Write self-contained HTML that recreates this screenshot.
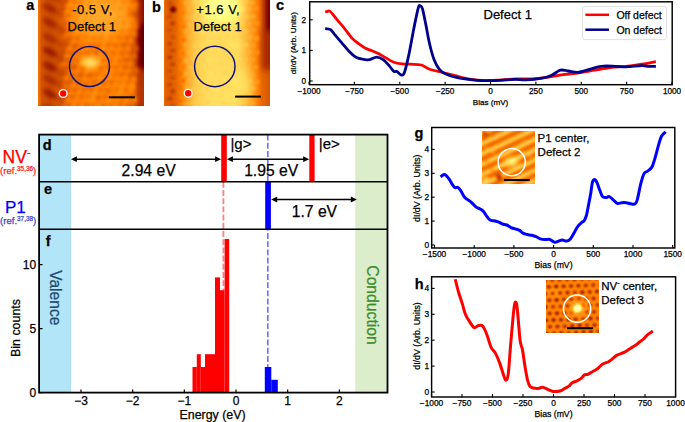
<!DOCTYPE html><html><head><meta charset="utf-8"><style>html,body{margin:0;padding:0;background:#fff;width:685px;height:422px;overflow:hidden}svg{display:block}text{font-family:"Liberation Sans",sans-serif;stroke-width:0.25px}</style></head><body>
<svg width="685" height="422" viewBox="0 0 685 422">
<defs>
<filter id="afm" color-interpolation-filters="sRGB"><feComponentTransfer><feFuncR type="table" tableValues="0 1 1"/><feFuncG type="table" tableValues="0 0 0.5 1 1"/><feFuncB type="table" tableValues="0 0 1"/></feComponentTransfer></filter>
<filter id="blur1" x="-50%" y="-50%" width="200%" height="200%" color-interpolation-filters="sRGB"><feGaussianBlur stdDeviation="1"/></filter>
<filter id="blur2" x="-50%" y="-50%" width="200%" height="200%" color-interpolation-filters="sRGB"><feGaussianBlur stdDeviation="1.6"/></filter>
<filter id="blur2b" x="-50%" y="-50%" width="200%" height="200%" color-interpolation-filters="sRGB"><feGaussianBlur stdDeviation="1.5"/></filter>
<filter id="blur2c" x="-50%" y="-50%" width="200%" height="200%" color-interpolation-filters="sRGB"><feGaussianBlur stdDeviation="2.0"/></filter>
<filter id="blur3" x="-50%" y="-50%" width="200%" height="200%" color-interpolation-filters="sRGB"><feGaussianBlur stdDeviation="3"/></filter>
<filter id="blur6" x="-50%" y="-50%" width="200%" height="200%" color-interpolation-filters="sRGB"><feGaussianBlur stdDeviation="6"/></filter>
<linearGradient id="ga_base" x1="0" x2="1" y1="0" y2="0"><stop offset="0" stop-color="#e06a0a"/><stop offset="0.3" stop-color="#ee8210"/><stop offset="0.8" stop-color="#f29018"/><stop offset="1" stop-color="#e07010"/></linearGradient>
<linearGradient id="gb_base" x1="0" x2="1" y1="0" y2="0"><stop offset="0" stop-color="#e67a10"/><stop offset="0.3" stop-color="#f4a42a"/><stop offset="0.7" stop-color="#f6b03a"/><stop offset="1" stop-color="#e88a18"/></linearGradient>
</defs>
<rect width="685" height="422" fill="#fff"/>
<clipPath id="ca"><rect x="38" y="0" width="106" height="106"/></clipPath>
<linearGradient id="gah" gradientUnits="userSpaceOnUse" x1="38" y1="0" x2="144" y2="0"><stop offset="0.000" stop-color="rgb(122,122,122)"/><stop offset="0.024" stop-color="rgb(107,107,107)"/><stop offset="0.113" stop-color="rgb(102,102,102)"/><stop offset="0.226" stop-color="rgb(110,110,110)"/><stop offset="0.349" stop-color="rgb(122,122,122)"/><stop offset="0.585" stop-color="rgb(130,130,130)"/><stop offset="0.774" stop-color="rgb(125,125,125)"/><stop offset="0.849" stop-color="rgb(115,115,115)"/><stop offset="0.915" stop-color="rgb(99,99,99)"/><stop offset="0.962" stop-color="rgb(84,84,84)"/><stop offset="1.000" stop-color="rgb(76,76,76)"/></linearGradient>
<g clip-path="url(#ca)"><g filter="url(#afm)">
<rect x="38" y="0" width="106" height="106" fill="url(#gah)"/>
<g filter="url(#blur6)">
<ellipse cx="102" cy="16" rx="36" ry="24" fill="rgb(150,150,150)"/>
<ellipse cx="95" cy="10" rx="20" ry="11" fill="rgb(158,158,158)"/>
<ellipse cx="115" cy="70" rx="8" ry="30" fill="rgb(140,140,140)" transform="rotate(-25 115 70)"/>
<ellipse cx="112" cy="90" rx="24" ry="16" fill="rgb(135,135,135)"/>
<ellipse cx="80" cy="100" rx="20" ry="10" fill="rgb(133,133,133)"/>
</g>
<g filter="url(#blur2c)">
<ellipse cx="67.5" cy="-6.7" rx="3.2" ry="2.5" fill="rgb(104,104,104)" transform="rotate(25 67.5 -6.7)"/>
<ellipse cx="71.7" cy="-3.0" rx="2.8" ry="2.2" fill="rgb(153,153,153)" opacity="0.85"/>
<ellipse cx="76.3" cy="-6.2" rx="3.2" ry="2.5" fill="rgb(107,107,107)" transform="rotate(25 76.3 -6.2)"/>
<ellipse cx="80.5" cy="-2.5" rx="2.8" ry="2.2" fill="rgb(154,154,154)" opacity="0.85"/>
<ellipse cx="84.7" cy="-6.1" rx="3.2" ry="2.5" fill="rgb(109,109,109)" transform="rotate(25 84.7 -6.1)"/>
<ellipse cx="88.9" cy="-2.4" rx="2.8" ry="2.2" fill="rgb(152,152,152)" opacity="0.85"/>
<ellipse cx="93.2" cy="-6.6" rx="3.2" ry="2.5" fill="rgb(122,122,122)" transform="rotate(25 93.2 -6.6)"/>
<ellipse cx="97.4" cy="-2.9" rx="2.8" ry="2.2" fill="rgb(149,149,149)" opacity="0.85"/>
<ellipse cx="101.9" cy="-5.9" rx="3.2" ry="2.5" fill="rgb(125,125,125)" transform="rotate(25 101.9 -5.9)"/>
<ellipse cx="106.1" cy="-2.2" rx="2.8" ry="2.2" fill="rgb(148,148,148)" opacity="0.85"/>
<ellipse cx="110.4" cy="-6.5" rx="3.2" ry="2.5" fill="rgb(122,122,122)" transform="rotate(25 110.4 -6.5)"/>
<ellipse cx="114.6" cy="-2.8" rx="2.8" ry="2.2" fill="rgb(144,144,144)" opacity="0.85"/>
<ellipse cx="117.7" cy="-6.7" rx="3.2" ry="2.5" fill="rgb(113,113,113)" transform="rotate(25 117.7 -6.7)"/>
<ellipse cx="121.9" cy="-3.0" rx="2.8" ry="2.2" fill="rgb(151,151,151)" opacity="0.85"/>
<ellipse cx="126.4" cy="-6.4" rx="3.2" ry="2.5" fill="rgb(106,106,106)" transform="rotate(25 126.4 -6.4)"/>
<ellipse cx="130.6" cy="-2.7" rx="2.8" ry="2.2" fill="rgb(150,150,150)" opacity="0.85"/>
<ellipse cx="65.7" cy="1.1" rx="3.2" ry="2.5" fill="rgb(96,96,96)" transform="rotate(25 65.7 1.1)"/>
<ellipse cx="69.9" cy="4.8" rx="2.8" ry="2.2" fill="rgb(154,154,154)" opacity="0.85"/>
<ellipse cx="74.4" cy="0.5" rx="3.2" ry="2.5" fill="rgb(111,111,111)" transform="rotate(25 74.4 0.5)"/>
<ellipse cx="78.6" cy="4.2" rx="2.8" ry="2.2" fill="rgb(145,145,145)" opacity="0.85"/>
<ellipse cx="81.7" cy="1.3" rx="3.2" ry="2.5" fill="rgb(119,119,119)" transform="rotate(25 81.7 1.3)"/>
<ellipse cx="85.9" cy="5.0" rx="2.8" ry="2.2" fill="rgb(151,151,151)" opacity="0.85"/>
<ellipse cx="89.7" cy="1.3" rx="3.2" ry="2.5" fill="rgb(131,131,131)" transform="rotate(25 89.7 1.3)"/>
<ellipse cx="93.9" cy="5.0" rx="2.8" ry="2.2" fill="rgb(155,155,155)" opacity="0.85"/>
<ellipse cx="98.8" cy="1.6" rx="3.2" ry="2.5" fill="rgb(131,131,131)" transform="rotate(25 98.8 1.6)"/>
<ellipse cx="103.0" cy="5.3" rx="2.8" ry="2.2" fill="rgb(150,150,150)" opacity="0.85"/>
<ellipse cx="106.5" cy="0.6" rx="3.2" ry="2.5" fill="rgb(132,132,132)" transform="rotate(25 106.5 0.6)"/>
<ellipse cx="110.7" cy="4.3" rx="2.8" ry="2.2" fill="rgb(145,145,145)" opacity="0.85"/>
<ellipse cx="114.9" cy="1.4" rx="3.2" ry="2.5" fill="rgb(131,131,131)" transform="rotate(25 114.9 1.4)"/>
<ellipse cx="119.1" cy="5.1" rx="2.8" ry="2.2" fill="rgb(154,154,154)" opacity="0.85"/>
<ellipse cx="123.8" cy="1.0" rx="3.2" ry="2.5" fill="rgb(122,122,122)" transform="rotate(25 123.8 1.0)"/>
<ellipse cx="128.0" cy="4.7" rx="2.8" ry="2.2" fill="rgb(150,150,150)" opacity="0.85"/>
<ellipse cx="132.5" cy="1.1" rx="3.2" ry="2.5" fill="rgb(111,111,111)" transform="rotate(25 132.5 1.1)"/>
<ellipse cx="136.7" cy="4.8" rx="2.8" ry="2.2" fill="rgb(148,148,148)" opacity="0.85"/>
<ellipse cx="62.7" cy="8.6" rx="3.2" ry="2.5" fill="rgb(93,93,93)" transform="rotate(25 62.7 8.6)"/>
<ellipse cx="66.9" cy="12.3" rx="2.8" ry="2.2" fill="rgb(149,149,149)" opacity="0.85"/>
<ellipse cx="71.2" cy="8.2" rx="3.2" ry="2.5" fill="rgb(115,115,115)" transform="rotate(25 71.2 8.2)"/>
<ellipse cx="75.4" cy="11.9" rx="2.8" ry="2.2" fill="rgb(143,143,143)" opacity="0.85"/>
<ellipse cx="78.6" cy="8.6" rx="3.2" ry="2.5" fill="rgb(125,125,125)" transform="rotate(25 78.6 8.6)"/>
<ellipse cx="82.8" cy="12.3" rx="2.8" ry="2.2" fill="rgb(149,149,149)" opacity="0.85"/>
<ellipse cx="87.8" cy="8.2" rx="3.2" ry="2.5" fill="rgb(134,134,134)" transform="rotate(25 87.8 8.2)"/>
<ellipse cx="92.0" cy="11.9" rx="2.8" ry="2.2" fill="rgb(148,148,148)" opacity="0.85"/>
<ellipse cx="96.3" cy="8.2" rx="3.2" ry="2.5" fill="rgb(139,139,139)" transform="rotate(25 96.3 8.2)"/>
<ellipse cx="100.5" cy="11.9" rx="2.8" ry="2.2" fill="rgb(143,143,143)" opacity="0.85"/>
<ellipse cx="104.6" cy="8.7" rx="3.2" ry="2.5" fill="rgb(139,139,139)" transform="rotate(25 104.6 8.7)"/>
<ellipse cx="108.8" cy="12.4" rx="2.8" ry="2.2" fill="rgb(153,153,153)" opacity="0.85"/>
<ellipse cx="112.5" cy="8.0" rx="3.2" ry="2.5" fill="rgb(137,137,137)" transform="rotate(25 112.5 8.0)"/>
<ellipse cx="116.7" cy="11.7" rx="2.8" ry="2.2" fill="rgb(144,144,144)" opacity="0.85"/>
<ellipse cx="121.0" cy="8.2" rx="3.2" ry="2.5" fill="rgb(130,130,130)" transform="rotate(25 121.0 8.2)"/>
<ellipse cx="125.2" cy="11.9" rx="2.8" ry="2.2" fill="rgb(154,154,154)" opacity="0.85"/>
<ellipse cx="129.2" cy="8.2" rx="3.2" ry="2.5" fill="rgb(125,125,125)" transform="rotate(25 129.2 8.2)"/>
<ellipse cx="133.4" cy="11.9" rx="2.8" ry="2.2" fill="rgb(149,149,149)" opacity="0.85"/>
<ellipse cx="68.7" cy="15.5" rx="3.2" ry="2.5" fill="rgb(109,109,109)" transform="rotate(25 68.7 15.5)"/>
<ellipse cx="72.9" cy="19.2" rx="2.8" ry="2.2" fill="rgb(148,148,148)" opacity="0.85"/>
<ellipse cx="76.5" cy="16.3" rx="3.2" ry="2.5" fill="rgb(122,122,122)" transform="rotate(25 76.5 16.3)"/>
<ellipse cx="80.7" cy="20.0" rx="2.8" ry="2.2" fill="rgb(155,155,155)" opacity="0.85"/>
<ellipse cx="85.6" cy="16.4" rx="3.2" ry="2.5" fill="rgb(137,137,137)" transform="rotate(25 85.6 16.4)"/>
<ellipse cx="89.8" cy="20.1" rx="2.8" ry="2.2" fill="rgb(155,155,155)" opacity="0.85"/>
<ellipse cx="93.0" cy="16.1" rx="3.2" ry="2.5" fill="rgb(140,140,140)" transform="rotate(25 93.0 16.1)"/>
<ellipse cx="97.2" cy="19.8" rx="2.8" ry="2.2" fill="rgb(149,149,149)" opacity="0.85"/>
<ellipse cx="101.5" cy="15.6" rx="3.2" ry="2.5" fill="rgb(141,141,141)" transform="rotate(25 101.5 15.6)"/>
<ellipse cx="105.7" cy="19.3" rx="2.8" ry="2.2" fill="rgb(150,150,150)" opacity="0.85"/>
<ellipse cx="109.9" cy="16.2" rx="3.2" ry="2.5" fill="rgb(141,141,141)" transform="rotate(25 109.9 16.2)"/>
<ellipse cx="114.1" cy="19.9" rx="2.8" ry="2.2" fill="rgb(152,152,152)" opacity="0.85"/>
<ellipse cx="119.3" cy="16.3" rx="3.2" ry="2.5" fill="rgb(135,135,135)" transform="rotate(25 119.3 16.3)"/>
<ellipse cx="123.5" cy="20.0" rx="2.8" ry="2.2" fill="rgb(143,143,143)" opacity="0.85"/>
<ellipse cx="127.4" cy="15.4" rx="3.2" ry="2.5" fill="rgb(128,128,128)" transform="rotate(25 127.4 15.4)"/>
<ellipse cx="131.6" cy="19.1" rx="2.8" ry="2.2" fill="rgb(149,149,149)" opacity="0.85"/>
<ellipse cx="65.0" cy="23.6" rx="3.2" ry="2.5" fill="rgb(104,104,104)" transform="rotate(25 65.0 23.6)"/>
<ellipse cx="69.2" cy="27.3" rx="2.8" ry="2.2" fill="rgb(153,153,153)" opacity="0.85"/>
<ellipse cx="73.1" cy="23.4" rx="3.2" ry="2.5" fill="rgb(116,116,116)" transform="rotate(25 73.1 23.4)"/>
<ellipse cx="77.3" cy="27.1" rx="2.8" ry="2.2" fill="rgb(146,146,146)" opacity="0.85"/>
<ellipse cx="81.9" cy="23.2" rx="3.2" ry="2.5" fill="rgb(130,130,130)" transform="rotate(25 81.9 23.2)"/>
<ellipse cx="86.1" cy="26.9" rx="2.8" ry="2.2" fill="rgb(153,153,153)" opacity="0.85"/>
<ellipse cx="89.9" cy="22.7" rx="3.2" ry="2.5" fill="rgb(135,135,135)" transform="rotate(25 89.9 22.7)"/>
<ellipse cx="94.1" cy="26.4" rx="2.8" ry="2.2" fill="rgb(144,144,144)" opacity="0.85"/>
<ellipse cx="99.9" cy="23.6" rx="3.2" ry="2.5" fill="rgb(139,139,139)" transform="rotate(25 99.9 23.6)"/>
<ellipse cx="104.1" cy="27.3" rx="2.8" ry="2.2" fill="rgb(147,147,147)" opacity="0.85"/>
<ellipse cx="107.2" cy="23.0" rx="3.2" ry="2.5" fill="rgb(139,139,139)" transform="rotate(25 107.2 23.0)"/>
<ellipse cx="111.4" cy="26.7" rx="2.8" ry="2.2" fill="rgb(147,147,147)" opacity="0.85"/>
<ellipse cx="115.4" cy="23.0" rx="3.2" ry="2.5" fill="rgb(136,136,136)" transform="rotate(25 115.4 23.0)"/>
<ellipse cx="119.6" cy="26.7" rx="2.8" ry="2.2" fill="rgb(152,152,152)" opacity="0.85"/>
<ellipse cx="124.1" cy="22.7" rx="3.2" ry="2.5" fill="rgb(128,128,128)" transform="rotate(25 124.1 22.7)"/>
<ellipse cx="128.3" cy="26.4" rx="2.8" ry="2.2" fill="rgb(151,151,151)" opacity="0.85"/>
<ellipse cx="133.2" cy="23.1" rx="3.2" ry="2.5" fill="rgb(118,118,118)" transform="rotate(25 133.2 23.1)"/>
<ellipse cx="137.4" cy="26.8" rx="2.8" ry="2.2" fill="rgb(148,148,148)" opacity="0.85"/>
<ellipse cx="63.4" cy="31.1" rx="3.2" ry="2.5" fill="rgb(97,97,97)" transform="rotate(25 63.4 31.1)"/>
<ellipse cx="67.6" cy="34.8" rx="2.8" ry="2.2" fill="rgb(153,153,153)" opacity="0.85"/>
<ellipse cx="70.8" cy="30.6" rx="3.2" ry="2.5" fill="rgb(105,105,105)" transform="rotate(25 70.8 30.6)"/>
<ellipse cx="75.0" cy="34.3" rx="2.8" ry="2.2" fill="rgb(151,151,151)" opacity="0.85"/>
<ellipse cx="80.2" cy="31.0" rx="3.2" ry="2.5" fill="rgb(123,123,123)" transform="rotate(25 80.2 31.0)"/>
<ellipse cx="84.4" cy="34.7" rx="2.8" ry="2.2" fill="rgb(150,150,150)" opacity="0.85"/>
<ellipse cx="87.4" cy="30.7" rx="3.2" ry="2.5" fill="rgb(125,125,125)" transform="rotate(25 87.4 30.7)"/>
<ellipse cx="91.6" cy="34.4" rx="2.8" ry="2.2" fill="rgb(153,153,153)" opacity="0.85"/>
<ellipse cx="95.7" cy="30.1" rx="3.2" ry="2.5" fill="rgb(134,134,134)" transform="rotate(25 95.7 30.1)"/>
<ellipse cx="99.9" cy="33.8" rx="2.8" ry="2.2" fill="rgb(145,145,145)" opacity="0.85"/>
<ellipse cx="104.0" cy="31.0" rx="3.2" ry="2.5" fill="rgb(134,134,134)" transform="rotate(25 104.0 31.0)"/>
<ellipse cx="108.2" cy="34.7" rx="2.8" ry="2.2" fill="rgb(151,151,151)" opacity="0.85"/>
<ellipse cx="113.7" cy="31.1" rx="3.2" ry="2.5" fill="rgb(130,130,130)" transform="rotate(25 113.7 31.1)"/>
<ellipse cx="117.9" cy="34.8" rx="2.8" ry="2.2" fill="rgb(143,143,143)" opacity="0.85"/>
<ellipse cx="122.0" cy="30.6" rx="3.2" ry="2.5" fill="rgb(120,120,120)" transform="rotate(25 122.0 30.6)"/>
<ellipse cx="126.2" cy="34.3" rx="2.8" ry="2.2" fill="rgb(152,152,152)" opacity="0.85"/>
<ellipse cx="130.7" cy="30.1" rx="3.2" ry="2.5" fill="rgb(115,115,115)" transform="rotate(25 130.7 30.1)"/>
<ellipse cx="134.9" cy="33.8" rx="2.8" ry="2.2" fill="rgb(153,153,153)" opacity="0.85"/>
<ellipse cx="69.3" cy="37.9" rx="3.2" ry="2.5" fill="rgb(101,101,101)" transform="rotate(25 69.3 37.9)"/>
<ellipse cx="73.5" cy="41.6" rx="2.8" ry="2.2" fill="rgb(152,152,152)" opacity="0.85"/>
<ellipse cx="77.3" cy="38.2" rx="3.2" ry="2.5" fill="rgb(107,107,107)" transform="rotate(25 77.3 38.2)"/>
<ellipse cx="81.5" cy="41.9" rx="2.8" ry="2.2" fill="rgb(151,151,151)" opacity="0.85"/>
<ellipse cx="85.9" cy="37.6" rx="3.2" ry="2.5" fill="rgb(118,118,118)" transform="rotate(25 85.9 37.6)"/>
<ellipse cx="90.1" cy="41.3" rx="2.8" ry="2.2" fill="rgb(154,154,154)" opacity="0.85"/>
<ellipse cx="93.7" cy="37.9" rx="3.2" ry="2.5" fill="rgb(117,117,117)" transform="rotate(25 93.7 37.9)"/>
<ellipse cx="97.9" cy="41.6" rx="2.8" ry="2.2" fill="rgb(146,146,146)" opacity="0.85"/>
<ellipse cx="101.6" cy="38.1" rx="3.2" ry="2.5" fill="rgb(119,119,119)" transform="rotate(25 101.6 38.1)"/>
<ellipse cx="105.8" cy="41.8" rx="2.8" ry="2.2" fill="rgb(152,152,152)" opacity="0.85"/>
<ellipse cx="111.2" cy="37.8" rx="3.2" ry="2.5" fill="rgb(119,119,119)" transform="rotate(25 111.2 37.8)"/>
<ellipse cx="115.4" cy="41.5" rx="2.8" ry="2.2" fill="rgb(154,154,154)" opacity="0.85"/>
<ellipse cx="119.0" cy="37.7" rx="3.2" ry="2.5" fill="rgb(110,110,110)" transform="rotate(25 119.0 37.7)"/>
<ellipse cx="123.2" cy="41.4" rx="2.8" ry="2.2" fill="rgb(149,149,149)" opacity="0.85"/>
<ellipse cx="127.1" cy="37.6" rx="3.2" ry="2.5" fill="rgb(106,106,106)" transform="rotate(25 127.1 37.6)"/>
<ellipse cx="131.3" cy="41.3" rx="2.8" ry="2.2" fill="rgb(153,153,153)" opacity="0.85"/>
<ellipse cx="65.7" cy="45.1" rx="3.2" ry="2.5" fill="rgb(98,98,98)" transform="rotate(25 65.7 45.1)"/>
<ellipse cx="69.9" cy="48.8" rx="2.8" ry="2.2" fill="rgb(151,151,151)" opacity="0.85"/>
<ellipse cx="74.9" cy="45.8" rx="3.2" ry="2.5" fill="rgb(101,101,101)" transform="rotate(25 74.9 45.8)"/>
<ellipse cx="79.1" cy="49.5" rx="2.8" ry="2.2" fill="rgb(146,146,146)" opacity="0.85"/>
<ellipse cx="82.1" cy="45.6" rx="3.2" ry="2.5" fill="rgb(113,113,113)" transform="rotate(25 82.1 45.6)"/>
<ellipse cx="86.3" cy="49.3" rx="2.8" ry="2.2" fill="rgb(146,146,146)" opacity="0.85"/>
<ellipse cx="91.6" cy="45.2" rx="3.2" ry="2.5" fill="rgb(111,111,111)" transform="rotate(25 91.6 45.2)"/>
<ellipse cx="95.8" cy="48.9" rx="2.8" ry="2.2" fill="rgb(144,144,144)" opacity="0.85"/>
<ellipse cx="98.7" cy="45.8" rx="3.2" ry="2.5" fill="rgb(107,107,107)" transform="rotate(25 98.7 45.8)"/>
<ellipse cx="102.9" cy="49.5" rx="2.8" ry="2.2" fill="rgb(150,150,150)" opacity="0.85"/>
<ellipse cx="108.1" cy="44.8" rx="3.2" ry="2.5" fill="rgb(108,108,108)" transform="rotate(25 108.1 44.8)"/>
<ellipse cx="112.3" cy="48.5" rx="2.8" ry="2.2" fill="rgb(149,149,149)" opacity="0.85"/>
<ellipse cx="115.7" cy="45.5" rx="3.2" ry="2.5" fill="rgb(107,107,107)" transform="rotate(25 115.7 45.5)"/>
<ellipse cx="119.9" cy="49.2" rx="2.8" ry="2.2" fill="rgb(150,150,150)" opacity="0.85"/>
<ellipse cx="124.0" cy="45.1" rx="3.2" ry="2.5" fill="rgb(103,103,103)" transform="rotate(25 124.0 45.1)"/>
<ellipse cx="128.2" cy="48.8" rx="2.8" ry="2.2" fill="rgb(154,154,154)" opacity="0.85"/>
<ellipse cx="133.7" cy="44.9" rx="3.2" ry="2.5" fill="rgb(107,107,107)" transform="rotate(25 133.7 44.9)"/>
<ellipse cx="137.9" cy="48.6" rx="2.8" ry="2.2" fill="rgb(153,153,153)" opacity="0.85"/>
<ellipse cx="62.5" cy="52.8" rx="3.2" ry="2.5" fill="rgb(96,96,96)" transform="rotate(25 62.5 52.8)"/>
<ellipse cx="66.7" cy="56.5" rx="2.8" ry="2.2" fill="rgb(151,151,151)" opacity="0.85"/>
<ellipse cx="71.6" cy="52.4" rx="3.2" ry="2.5" fill="rgb(105,105,105)" transform="rotate(25 71.6 52.4)"/>
<ellipse cx="75.8" cy="56.1" rx="2.8" ry="2.2" fill="rgb(145,145,145)" opacity="0.85"/>
<ellipse cx="80.5" cy="53.0" rx="3.2" ry="2.5" fill="rgb(114,114,114)" transform="rotate(25 80.5 53.0)"/>
<ellipse cx="84.7" cy="56.7" rx="2.8" ry="2.2" fill="rgb(145,145,145)" opacity="0.85"/>
<ellipse cx="88.0" cy="53.1" rx="3.2" ry="2.5" fill="rgb(109,109,109)" transform="rotate(25 88.0 53.1)"/>
<ellipse cx="92.2" cy="56.8" rx="2.8" ry="2.2" fill="rgb(151,151,151)" opacity="0.85"/>
<ellipse cx="96.6" cy="52.6" rx="3.2" ry="2.5" fill="rgb(103,103,103)" transform="rotate(25 96.6 52.6)"/>
<ellipse cx="100.8" cy="56.3" rx="2.8" ry="2.2" fill="rgb(152,152,152)" opacity="0.85"/>
<ellipse cx="105.5" cy="52.9" rx="3.2" ry="2.5" fill="rgb(107,107,107)" transform="rotate(25 105.5 52.9)"/>
<ellipse cx="109.7" cy="56.6" rx="2.8" ry="2.2" fill="rgb(146,146,146)" opacity="0.85"/>
<ellipse cx="113.3" cy="53.2" rx="3.2" ry="2.5" fill="rgb(108,108,108)" transform="rotate(25 113.3 53.2)"/>
<ellipse cx="117.5" cy="56.9" rx="2.8" ry="2.2" fill="rgb(146,146,146)" opacity="0.85"/>
<ellipse cx="122.3" cy="52.6" rx="3.2" ry="2.5" fill="rgb(107,107,107)" transform="rotate(25 122.3 52.6)"/>
<ellipse cx="126.5" cy="56.3" rx="2.8" ry="2.2" fill="rgb(150,150,150)" opacity="0.85"/>
<ellipse cx="130.7" cy="52.6" rx="3.2" ry="2.5" fill="rgb(103,103,103)" transform="rotate(25 130.7 52.6)"/>
<ellipse cx="134.9" cy="56.3" rx="2.8" ry="2.2" fill="rgb(146,146,146)" opacity="0.85"/>
<ellipse cx="60.2" cy="59.8" rx="3.2" ry="2.5" fill="rgb(96,96,96)" transform="rotate(25 60.2 59.8)"/>
<ellipse cx="64.4" cy="63.5" rx="2.8" ry="2.2" fill="rgb(145,145,145)" opacity="0.85"/>
<ellipse cx="68.4" cy="60.5" rx="3.2" ry="2.5" fill="rgb(99,99,99)" transform="rotate(25 68.4 60.5)"/>
<ellipse cx="72.6" cy="64.2" rx="2.8" ry="2.2" fill="rgb(154,154,154)" opacity="0.85"/>
<ellipse cx="77.9" cy="60.1" rx="3.2" ry="2.5" fill="rgb(108,108,108)" transform="rotate(25 77.9 60.1)"/>
<ellipse cx="82.1" cy="63.8" rx="2.8" ry="2.2" fill="rgb(151,151,151)" opacity="0.85"/>
<ellipse cx="86.4" cy="60.4" rx="3.2" ry="2.5" fill="rgb(113,113,113)" transform="rotate(25 86.4 60.4)"/>
<ellipse cx="90.6" cy="64.1" rx="2.8" ry="2.2" fill="rgb(149,149,149)" opacity="0.85"/>
<ellipse cx="94.2" cy="60.5" rx="3.2" ry="2.5" fill="rgb(112,112,112)" transform="rotate(25 94.2 60.5)"/>
<ellipse cx="98.4" cy="64.2" rx="2.8" ry="2.2" fill="rgb(151,151,151)" opacity="0.85"/>
<ellipse cx="102.4" cy="60.2" rx="3.2" ry="2.5" fill="rgb(104,104,104)" transform="rotate(25 102.4 60.2)"/>
<ellipse cx="106.6" cy="63.9" rx="2.8" ry="2.2" fill="rgb(150,150,150)" opacity="0.85"/>
<ellipse cx="110.1" cy="60.2" rx="3.2" ry="2.5" fill="rgb(108,108,108)" transform="rotate(25 110.1 60.2)"/>
<ellipse cx="114.3" cy="63.9" rx="2.8" ry="2.2" fill="rgb(150,150,150)" opacity="0.85"/>
<ellipse cx="119.9" cy="60.7" rx="3.2" ry="2.5" fill="rgb(112,112,112)" transform="rotate(25 119.9 60.7)"/>
<ellipse cx="124.1" cy="64.4" rx="2.8" ry="2.2" fill="rgb(151,151,151)" opacity="0.85"/>
<ellipse cx="126.9" cy="60.0" rx="3.2" ry="2.5" fill="rgb(103,103,103)" transform="rotate(25 126.9 60.0)"/>
<ellipse cx="131.1" cy="63.7" rx="2.8" ry="2.2" fill="rgb(150,150,150)" opacity="0.85"/>
<ellipse cx="66.8" cy="68.0" rx="3.2" ry="2.5" fill="rgb(101,101,101)" transform="rotate(25 66.8 68.0)"/>
<ellipse cx="71.0" cy="71.7" rx="2.8" ry="2.2" fill="rgb(149,149,149)" opacity="0.85"/>
<ellipse cx="73.9" cy="67.1" rx="3.2" ry="2.5" fill="rgb(100,100,100)" transform="rotate(25 73.9 67.1)"/>
<ellipse cx="78.1" cy="70.8" rx="2.8" ry="2.2" fill="rgb(145,145,145)" opacity="0.85"/>
<ellipse cx="82.9" cy="67.8" rx="3.2" ry="2.5" fill="rgb(107,107,107)" transform="rotate(25 82.9 67.8)"/>
<ellipse cx="87.1" cy="71.5" rx="2.8" ry="2.2" fill="rgb(151,151,151)" opacity="0.85"/>
<ellipse cx="91.0" cy="67.6" rx="3.2" ry="2.5" fill="rgb(107,107,107)" transform="rotate(25 91.0 67.6)"/>
<ellipse cx="95.2" cy="71.3" rx="2.8" ry="2.2" fill="rgb(145,145,145)" opacity="0.85"/>
<ellipse cx="100.3" cy="67.9" rx="3.2" ry="2.5" fill="rgb(107,107,107)" transform="rotate(25 100.3 67.9)"/>
<ellipse cx="104.5" cy="71.6" rx="2.8" ry="2.2" fill="rgb(150,150,150)" opacity="0.85"/>
<ellipse cx="108.3" cy="67.3" rx="3.2" ry="2.5" fill="rgb(105,105,105)" transform="rotate(25 108.3 67.3)"/>
<ellipse cx="112.5" cy="71.0" rx="2.8" ry="2.2" fill="rgb(153,153,153)" opacity="0.85"/>
<ellipse cx="115.9" cy="67.6" rx="3.2" ry="2.5" fill="rgb(105,105,105)" transform="rotate(25 115.9 67.6)"/>
<ellipse cx="120.1" cy="71.3" rx="2.8" ry="2.2" fill="rgb(145,145,145)" opacity="0.85"/>
<ellipse cx="124.7" cy="67.2" rx="3.2" ry="2.5" fill="rgb(103,103,103)" transform="rotate(25 124.7 67.2)"/>
<ellipse cx="128.9" cy="70.9" rx="2.8" ry="2.2" fill="rgb(145,145,145)" opacity="0.85"/>
<ellipse cx="133.3" cy="67.1" rx="3.2" ry="2.5" fill="rgb(108,108,108)" transform="rotate(25 133.3 67.1)"/>
<ellipse cx="137.5" cy="70.8" rx="2.8" ry="2.2" fill="rgb(148,148,148)" opacity="0.85"/>
<ellipse cx="62.8" cy="74.5" rx="3.2" ry="2.5" fill="rgb(100,100,100)" transform="rotate(25 62.8 74.5)"/>
<ellipse cx="67.0" cy="78.2" rx="2.8" ry="2.2" fill="rgb(153,153,153)" opacity="0.85"/>
<ellipse cx="71.7" cy="75.5" rx="3.2" ry="2.5" fill="rgb(100,100,100)" transform="rotate(25 71.7 75.5)"/>
<ellipse cx="75.9" cy="79.2" rx="2.8" ry="2.2" fill="rgb(146,146,146)" opacity="0.85"/>
<ellipse cx="80.7" cy="75.2" rx="3.2" ry="2.5" fill="rgb(103,103,103)" transform="rotate(25 80.7 75.2)"/>
<ellipse cx="84.9" cy="78.9" rx="2.8" ry="2.2" fill="rgb(152,152,152)" opacity="0.85"/>
<ellipse cx="89.4" cy="75.1" rx="3.2" ry="2.5" fill="rgb(102,102,102)" transform="rotate(25 89.4 75.1)"/>
<ellipse cx="93.6" cy="78.8" rx="2.8" ry="2.2" fill="rgb(144,144,144)" opacity="0.85"/>
<ellipse cx="96.5" cy="74.4" rx="3.2" ry="2.5" fill="rgb(110,110,110)" transform="rotate(25 96.5 74.4)"/>
<ellipse cx="100.7" cy="78.1" rx="2.8" ry="2.2" fill="rgb(154,154,154)" opacity="0.85"/>
<ellipse cx="104.9" cy="75.6" rx="3.2" ry="2.5" fill="rgb(112,112,112)" transform="rotate(25 104.9 75.6)"/>
<ellipse cx="109.1" cy="79.3" rx="2.8" ry="2.2" fill="rgb(154,154,154)" opacity="0.85"/>
<ellipse cx="114.5" cy="74.4" rx="3.2" ry="2.5" fill="rgb(110,110,110)" transform="rotate(25 114.5 74.4)"/>
<ellipse cx="118.7" cy="78.1" rx="2.8" ry="2.2" fill="rgb(155,155,155)" opacity="0.85"/>
<ellipse cx="121.5" cy="74.8" rx="3.2" ry="2.5" fill="rgb(103,103,103)" transform="rotate(25 121.5 74.8)"/>
<ellipse cx="125.7" cy="78.5" rx="2.8" ry="2.2" fill="rgb(148,148,148)" opacity="0.85"/>
<ellipse cx="130.3" cy="75.2" rx="3.2" ry="2.5" fill="rgb(104,104,104)" transform="rotate(25 130.3 75.2)"/>
<ellipse cx="134.5" cy="78.9" rx="2.8" ry="2.2" fill="rgb(152,152,152)" opacity="0.85"/>
<ellipse cx="60.2" cy="82.7" rx="3.2" ry="2.5" fill="rgb(97,97,97)" transform="rotate(25 60.2 82.7)"/>
<ellipse cx="64.4" cy="86.4" rx="2.8" ry="2.2" fill="rgb(148,148,148)" opacity="0.85"/>
<ellipse cx="69.1" cy="82.0" rx="3.2" ry="2.5" fill="rgb(100,100,100)" transform="rotate(25 69.1 82.0)"/>
<ellipse cx="73.3" cy="85.7" rx="2.8" ry="2.2" fill="rgb(149,149,149)" opacity="0.85"/>
<ellipse cx="77.9" cy="82.6" rx="3.2" ry="2.5" fill="rgb(104,104,104)" transform="rotate(25 77.9 82.6)"/>
<ellipse cx="82.1" cy="86.3" rx="2.8" ry="2.2" fill="rgb(154,154,154)" opacity="0.85"/>
<ellipse cx="86.1" cy="82.9" rx="3.2" ry="2.5" fill="rgb(108,108,108)" transform="rotate(25 86.1 82.9)"/>
<ellipse cx="90.3" cy="86.6" rx="2.8" ry="2.2" fill="rgb(154,154,154)" opacity="0.85"/>
<ellipse cx="94.7" cy="82.2" rx="3.2" ry="2.5" fill="rgb(103,103,103)" transform="rotate(25 94.7 82.2)"/>
<ellipse cx="98.9" cy="85.9" rx="2.8" ry="2.2" fill="rgb(148,148,148)" opacity="0.85"/>
<ellipse cx="103.4" cy="81.9" rx="3.2" ry="2.5" fill="rgb(103,103,103)" transform="rotate(25 103.4 81.9)"/>
<ellipse cx="107.6" cy="85.6" rx="2.8" ry="2.2" fill="rgb(144,144,144)" opacity="0.85"/>
<ellipse cx="111.3" cy="82.1" rx="3.2" ry="2.5" fill="rgb(104,104,104)" transform="rotate(25 111.3 82.1)"/>
<ellipse cx="115.5" cy="85.8" rx="2.8" ry="2.2" fill="rgb(151,151,151)" opacity="0.85"/>
<ellipse cx="119.6" cy="81.8" rx="3.2" ry="2.5" fill="rgb(114,114,114)" transform="rotate(25 119.6 81.8)"/>
<ellipse cx="123.8" cy="85.5" rx="2.8" ry="2.2" fill="rgb(146,146,146)" opacity="0.85"/>
<ellipse cx="128.0" cy="82.3" rx="3.2" ry="2.5" fill="rgb(110,110,110)" transform="rotate(25 128.0 82.3)"/>
<ellipse cx="132.2" cy="86.0" rx="2.8" ry="2.2" fill="rgb(153,153,153)" opacity="0.85"/>
<ellipse cx="66.6" cy="90.0" rx="3.2" ry="2.5" fill="rgb(104,104,104)" transform="rotate(25 66.6 90.0)"/>
<ellipse cx="70.8" cy="93.7" rx="2.8" ry="2.2" fill="rgb(147,147,147)" opacity="0.85"/>
<ellipse cx="75.0" cy="89.7" rx="3.2" ry="2.5" fill="rgb(107,107,107)" transform="rotate(25 75.0 89.7)"/>
<ellipse cx="79.2" cy="93.4" rx="2.8" ry="2.2" fill="rgb(150,150,150)" opacity="0.85"/>
<ellipse cx="83.7" cy="89.4" rx="3.2" ry="2.5" fill="rgb(108,108,108)" transform="rotate(25 83.7 89.4)"/>
<ellipse cx="87.9" cy="93.1" rx="2.8" ry="2.2" fill="rgb(152,152,152)" opacity="0.85"/>
<ellipse cx="90.9" cy="89.6" rx="3.2" ry="2.5" fill="rgb(103,103,103)" transform="rotate(25 90.9 89.6)"/>
<ellipse cx="95.1" cy="93.3" rx="2.8" ry="2.2" fill="rgb(150,150,150)" opacity="0.85"/>
<ellipse cx="100.4" cy="89.7" rx="3.2" ry="2.5" fill="rgb(110,110,110)" transform="rotate(25 100.4 89.7)"/>
<ellipse cx="104.6" cy="93.4" rx="2.8" ry="2.2" fill="rgb(146,146,146)" opacity="0.85"/>
<ellipse cx="108.2" cy="90.4" rx="3.2" ry="2.5" fill="rgb(107,107,107)" transform="rotate(25 108.2 90.4)"/>
<ellipse cx="112.4" cy="94.1" rx="2.8" ry="2.2" fill="rgb(144,144,144)" opacity="0.85"/>
<ellipse cx="116.3" cy="89.4" rx="3.2" ry="2.5" fill="rgb(111,111,111)" transform="rotate(25 116.3 89.4)"/>
<ellipse cx="120.5" cy="93.1" rx="2.8" ry="2.2" fill="rgb(154,154,154)" opacity="0.85"/>
<ellipse cx="126.0" cy="89.9" rx="3.2" ry="2.5" fill="rgb(109,109,109)" transform="rotate(25 126.0 89.9)"/>
<ellipse cx="130.2" cy="93.6" rx="2.8" ry="2.2" fill="rgb(148,148,148)" opacity="0.85"/>
<ellipse cx="64.1" cy="97.0" rx="3.2" ry="2.5" fill="rgb(99,99,99)" transform="rotate(25 64.1 97.0)"/>
<ellipse cx="68.3" cy="100.7" rx="2.8" ry="2.2" fill="rgb(143,143,143)" opacity="0.85"/>
<ellipse cx="72.5" cy="96.9" rx="3.2" ry="2.5" fill="rgb(102,102,102)" transform="rotate(25 72.5 96.9)"/>
<ellipse cx="76.7" cy="100.6" rx="2.8" ry="2.2" fill="rgb(152,152,152)" opacity="0.85"/>
<ellipse cx="80.9" cy="96.9" rx="3.2" ry="2.5" fill="rgb(106,106,106)" transform="rotate(25 80.9 96.9)"/>
<ellipse cx="85.1" cy="100.6" rx="2.8" ry="2.2" fill="rgb(148,148,148)" opacity="0.85"/>
<ellipse cx="88.2" cy="96.8" rx="3.2" ry="2.5" fill="rgb(111,111,111)" transform="rotate(25 88.2 96.8)"/>
<ellipse cx="92.4" cy="100.5" rx="2.8" ry="2.2" fill="rgb(155,155,155)" opacity="0.85"/>
<ellipse cx="98.1" cy="97.7" rx="3.2" ry="2.5" fill="rgb(104,104,104)" transform="rotate(25 98.1 97.7)"/>
<ellipse cx="102.3" cy="101.4" rx="2.8" ry="2.2" fill="rgb(147,147,147)" opacity="0.85"/>
<ellipse cx="105.6" cy="97.2" rx="3.2" ry="2.5" fill="rgb(107,107,107)" transform="rotate(25 105.6 97.2)"/>
<ellipse cx="109.8" cy="100.9" rx="2.8" ry="2.2" fill="rgb(154,154,154)" opacity="0.85"/>
<ellipse cx="113.8" cy="97.2" rx="3.2" ry="2.5" fill="rgb(112,112,112)" transform="rotate(25 113.8 97.2)"/>
<ellipse cx="118.0" cy="100.9" rx="2.8" ry="2.2" fill="rgb(147,147,147)" opacity="0.85"/>
<ellipse cx="122.1" cy="97.6" rx="3.2" ry="2.5" fill="rgb(104,104,104)" transform="rotate(25 122.1 97.6)"/>
<ellipse cx="126.3" cy="101.3" rx="2.8" ry="2.2" fill="rgb(150,150,150)" opacity="0.85"/>
<ellipse cx="131.0" cy="96.8" rx="3.2" ry="2.5" fill="rgb(105,105,105)" transform="rotate(25 131.0 96.8)"/>
<ellipse cx="135.2" cy="100.5" rx="2.8" ry="2.2" fill="rgb(153,153,153)" opacity="0.85"/>
<ellipse cx="60.7" cy="104.3" rx="3.2" ry="2.5" fill="rgb(100,100,100)" transform="rotate(25 60.7 104.3)"/>
<ellipse cx="64.9" cy="108.0" rx="2.8" ry="2.2" fill="rgb(146,146,146)" opacity="0.85"/>
<ellipse cx="68.7" cy="104.5" rx="3.2" ry="2.5" fill="rgb(103,103,103)" transform="rotate(25 68.7 104.5)"/>
<ellipse cx="72.9" cy="108.2" rx="2.8" ry="2.2" fill="rgb(154,154,154)" opacity="0.85"/>
<ellipse cx="78.3" cy="104.3" rx="3.2" ry="2.5" fill="rgb(110,110,110)" transform="rotate(25 78.3 104.3)"/>
<ellipse cx="82.5" cy="108.0" rx="2.8" ry="2.2" fill="rgb(153,153,153)" opacity="0.85"/>
<ellipse cx="86.2" cy="105.0" rx="3.2" ry="2.5" fill="rgb(106,106,106)" transform="rotate(25 86.2 105.0)"/>
<ellipse cx="90.4" cy="108.7" rx="2.8" ry="2.2" fill="rgb(145,145,145)" opacity="0.85"/>
<ellipse cx="93.8" cy="104.8" rx="3.2" ry="2.5" fill="rgb(114,114,114)" transform="rotate(25 93.8 104.8)"/>
<ellipse cx="98.0" cy="108.5" rx="2.8" ry="2.2" fill="rgb(149,149,149)" opacity="0.85"/>
<ellipse cx="103.3" cy="105.1" rx="3.2" ry="2.5" fill="rgb(110,110,110)" transform="rotate(25 103.3 105.1)"/>
<ellipse cx="107.5" cy="108.8" rx="2.8" ry="2.2" fill="rgb(148,148,148)" opacity="0.85"/>
<ellipse cx="111.4" cy="104.2" rx="3.2" ry="2.5" fill="rgb(111,111,111)" transform="rotate(25 111.4 104.2)"/>
<ellipse cx="115.6" cy="107.9" rx="2.8" ry="2.2" fill="rgb(155,155,155)" opacity="0.85"/>
<ellipse cx="119.9" cy="104.5" rx="3.2" ry="2.5" fill="rgb(108,108,108)" transform="rotate(25 119.9 104.5)"/>
<ellipse cx="124.1" cy="108.2" rx="2.8" ry="2.2" fill="rgb(153,153,153)" opacity="0.85"/>
<ellipse cx="128.1" cy="105.2" rx="3.2" ry="2.5" fill="rgb(106,106,106)" transform="rotate(25 128.1 105.2)"/>
<ellipse cx="132.3" cy="108.9" rx="2.8" ry="2.2" fill="rgb(149,149,149)" opacity="0.85"/>
</g>
<g filter="url(#blur2c)">
<ellipse cx="50" cy="-4.8" rx="8" ry="3.5" fill="rgb(86,86,86)" transform="rotate(30 50 -4.8)"/>
<ellipse cx="60" cy="1.2" rx="4" ry="3" fill="rgb(97,97,97)" transform="rotate(30 60 1.2)"/>
<ellipse cx="50" cy="8.2" rx="8" ry="3.5" fill="rgb(82,82,82)" transform="rotate(30 50 8.2)"/>
<ellipse cx="60" cy="14.2" rx="4" ry="3" fill="rgb(97,97,97)" transform="rotate(30 60 14.2)"/>
<ellipse cx="50" cy="22.9" rx="8" ry="3.5" fill="rgb(81,81,81)" transform="rotate(30 50 22.9)"/>
<ellipse cx="60" cy="28.9" rx="4" ry="3" fill="rgb(97,97,97)" transform="rotate(30 60 28.9)"/>
<ellipse cx="50" cy="38.2" rx="8" ry="3.5" fill="rgb(86,86,86)" transform="rotate(30 50 38.2)"/>
<ellipse cx="60" cy="44.2" rx="4" ry="3" fill="rgb(97,97,97)" transform="rotate(30 60 44.2)"/>
<ellipse cx="50" cy="51.9" rx="8" ry="3.5" fill="rgb(76,76,76)" transform="rotate(30 50 51.9)"/>
<ellipse cx="60" cy="57.9" rx="4" ry="3" fill="rgb(97,97,97)" transform="rotate(30 60 57.9)"/>
<ellipse cx="50" cy="66.6" rx="8" ry="3.5" fill="rgb(76,76,76)" transform="rotate(30 50 66.6)"/>
<ellipse cx="60" cy="72.6" rx="4" ry="3" fill="rgb(97,97,97)" transform="rotate(30 60 72.6)"/>
<ellipse cx="50" cy="79.8" rx="8" ry="3.5" fill="rgb(85,85,85)" transform="rotate(30 50 79.8)"/>
<ellipse cx="60" cy="85.8" rx="4" ry="3" fill="rgb(97,97,97)" transform="rotate(30 60 85.8)"/>
<ellipse cx="50" cy="93.8" rx="8" ry="3.5" fill="rgb(77,77,77)" transform="rotate(30 50 93.8)"/>
<ellipse cx="60" cy="99.8" rx="4" ry="3" fill="rgb(97,97,97)" transform="rotate(30 60 99.8)"/>
<ellipse cx="50" cy="109.3" rx="8" ry="3.5" fill="rgb(86,86,86)" transform="rotate(30 50 109.3)"/>
<ellipse cx="60" cy="115.3" rx="4" ry="3" fill="rgb(97,97,97)" transform="rotate(30 60 115.3)"/>
</g>
<g filter="url(#blur3)">
<rect x="140" y="-10" width="10" height="35" fill="rgb(71,71,71)"/>
<rect x="139.5" y="25" width="10" height="45" fill="rgb(43,43,43)"/>
<rect x="140" y="68" width="10" height="42" fill="rgb(92,92,92)"/>
<ellipse cx="134" cy="14" rx="5" ry="2.5" fill="rgb(76,76,76)" transform="rotate(30 134 14)"/>
</g>
<rect x="38" y="0" width="2" height="106" fill="rgb(122,122,122)" filter="url(#blur1)"/>
<g filter="url(#blur3)">
<path d="M78,60 L102,59 L91,70 Z" fill="rgb(178,178,178)"/>
<ellipse cx="90" cy="62" rx="9" ry="4" fill="rgb(184,184,184)"/>
</g>
</g></g>
<clipPath id="cb"><rect x="164" y="0" width="106" height="106"/></clipPath>
<linearGradient id="gbh" gradientUnits="userSpaceOnUse" x1="164" y1="0" x2="270" y2="0"><stop offset="0.000" stop-color="rgb(120,120,120)"/><stop offset="0.019" stop-color="rgb(112,112,112)"/><stop offset="0.113" stop-color="rgb(115,115,115)"/><stop offset="0.208" stop-color="rgb(143,143,143)"/><stop offset="0.302" stop-color="rgb(166,166,166)"/><stop offset="0.434" stop-color="rgb(176,176,176)"/><stop offset="0.670" stop-color="rgb(176,176,176)"/><stop offset="0.764" stop-color="rgb(158,158,158)"/><stop offset="0.858" stop-color="rgb(133,133,133)"/><stop offset="0.925" stop-color="rgb(115,115,115)"/><stop offset="1.000" stop-color="rgb(107,107,107)"/></linearGradient>
<g clip-path="url(#cb)"><g filter="url(#afm)">
<rect x="164" y="0" width="106" height="106" fill="url(#gbh)"/>
<g filter="url(#blur6)">
<ellipse cx="222" cy="8" rx="18" ry="16" fill="rgb(204,204,204)"/>
<ellipse cx="232" cy="45" rx="7" ry="6" fill="rgb(199,199,199)"/>
<ellipse cx="240" cy="80" rx="9" ry="20" fill="rgb(178,178,178)" transform="rotate(-20 240 80)"/>
<ellipse cx="222" cy="40" rx="14" ry="22" fill="rgb(173,173,173)"/>
<ellipse cx="228" cy="62" rx="10" ry="12" fill="rgb(171,171,171)"/>
</g>
<g filter="url(#blur3)">
<rect x="265" y="-10" width="10" height="50" fill="rgb(56,56,56)"/>
<rect x="262" y="30" width="12" height="40" fill="rgb(84,84,84)"/>
</g>
<g filter="url(#blur2)">
<ellipse cx="170.0" cy="3.0" rx="2.4" ry="1.8" fill="rgb(94,94,94)"/>
<ellipse cx="180" cy="6.0" rx="2.4" ry="1.8" fill="rgb(122,122,122)"/>
<ellipse cx="172.5" cy="9.8" rx="2.4" ry="1.8" fill="rgb(96,96,96)"/>
<ellipse cx="183" cy="12.8" rx="2.4" ry="1.8" fill="rgb(124,124,124)"/>
<ellipse cx="170.0" cy="16.6" rx="2.4" ry="1.8" fill="rgb(95,95,95)"/>
<ellipse cx="180" cy="19.6" rx="2.4" ry="1.8" fill="rgb(124,124,124)"/>
<ellipse cx="172.5" cy="23.4" rx="2.4" ry="1.8" fill="rgb(85,85,85)"/>
<ellipse cx="183" cy="26.4" rx="2.4" ry="1.8" fill="rgb(119,119,119)"/>
<ellipse cx="170.0" cy="30.2" rx="2.4" ry="1.8" fill="rgb(99,99,99)"/>
<ellipse cx="180" cy="33.2" rx="2.4" ry="1.8" fill="rgb(121,121,121)"/>
<ellipse cx="172.5" cy="37.0" rx="2.4" ry="1.8" fill="rgb(98,98,98)"/>
<ellipse cx="183" cy="40.0" rx="2.4" ry="1.8" fill="rgb(116,116,116)"/>
<ellipse cx="170.0" cy="43.8" rx="2.4" ry="1.8" fill="rgb(91,91,91)"/>
<ellipse cx="180" cy="46.8" rx="2.4" ry="1.8" fill="rgb(117,117,117)"/>
<ellipse cx="172.5" cy="50.6" rx="2.4" ry="1.8" fill="rgb(92,92,92)"/>
<ellipse cx="183" cy="53.6" rx="2.4" ry="1.8" fill="rgb(121,121,121)"/>
<ellipse cx="170.0" cy="57.4" rx="2.4" ry="1.8" fill="rgb(84,84,84)"/>
<ellipse cx="180" cy="60.4" rx="2.4" ry="1.8" fill="rgb(117,117,117)"/>
<ellipse cx="172.5" cy="64.19999999999999" rx="2.4" ry="1.8" fill="rgb(88,88,88)"/>
<ellipse cx="183" cy="67.19999999999999" rx="2.4" ry="1.8" fill="rgb(124,124,124)"/>
<ellipse cx="170.0" cy="71.0" rx="2.4" ry="1.8" fill="rgb(96,96,96)"/>
<ellipse cx="180" cy="74.0" rx="2.4" ry="1.8" fill="rgb(116,116,116)"/>
<ellipse cx="172.5" cy="77.8" rx="2.4" ry="1.8" fill="rgb(96,96,96)"/>
<ellipse cx="183" cy="80.8" rx="2.4" ry="1.8" fill="rgb(116,116,116)"/>
<ellipse cx="170.0" cy="84.6" rx="2.4" ry="1.8" fill="rgb(94,94,94)"/>
<ellipse cx="180" cy="87.6" rx="2.4" ry="1.8" fill="rgb(116,116,116)"/>
<ellipse cx="172.5" cy="91.39999999999999" rx="2.4" ry="1.8" fill="rgb(84,84,84)"/>
<ellipse cx="183" cy="94.39999999999999" rx="2.4" ry="1.8" fill="rgb(124,124,124)"/>
<ellipse cx="170.0" cy="98.2" rx="2.4" ry="1.8" fill="rgb(87,87,87)"/>
<ellipse cx="180" cy="101.2" rx="2.4" ry="1.8" fill="rgb(117,117,117)"/>
<ellipse cx="172.5" cy="105.0" rx="2.4" ry="1.8" fill="rgb(99,99,99)"/>
<ellipse cx="183" cy="108.0" rx="2.4" ry="1.8" fill="rgb(124,124,124)"/>
<ellipse cx="173" cy="9.5" rx="3" ry="3" fill="rgb(56,56,56)"/>
</g>
<g filter="url(#blur2)" opacity="0.5">
<ellipse cx="185.6" cy="2.9" rx="2.2" ry="1.6" fill="rgb(172,172,172)"/>
<ellipse cx="193.9" cy="1.4" rx="2.2" ry="1.6" fill="rgb(182,182,182)"/>
<ellipse cx="201.4" cy="2.9" rx="2.2" ry="1.6" fill="rgb(181,181,181)"/>
<ellipse cx="208.1" cy="1.7" rx="2.2" ry="1.6" fill="rgb(162,162,162)"/>
<ellipse cx="215.3" cy="1.1" rx="2.2" ry="1.6" fill="rgb(166,166,166)"/>
<ellipse cx="223.7" cy="1.0" rx="2.2" ry="1.6" fill="rgb(175,175,175)"/>
<ellipse cx="230.7" cy="1.6" rx="2.2" ry="1.6" fill="rgb(179,179,179)"/>
<ellipse cx="238.5" cy="1.6" rx="2.2" ry="1.6" fill="rgb(170,170,170)"/>
<ellipse cx="246.4" cy="1.1" rx="2.2" ry="1.6" fill="rgb(183,183,183)"/>
<ellipse cx="252.5" cy="2.5" rx="2.2" ry="1.6" fill="rgb(180,180,180)"/>
<ellipse cx="188.7" cy="8.3" rx="2.2" ry="1.6" fill="rgb(163,163,163)"/>
<ellipse cx="198.1" cy="8.6" rx="2.2" ry="1.6" fill="rgb(177,177,177)"/>
<ellipse cx="205.6" cy="10.1" rx="2.2" ry="1.6" fill="rgb(167,167,167)"/>
<ellipse cx="211.9" cy="9.2" rx="2.2" ry="1.6" fill="rgb(178,178,178)"/>
<ellipse cx="218.9" cy="9.7" rx="2.2" ry="1.6" fill="rgb(178,178,178)"/>
<ellipse cx="227.9" cy="8.3" rx="2.2" ry="1.6" fill="rgb(182,182,182)"/>
<ellipse cx="233.9" cy="8.9" rx="2.2" ry="1.6" fill="rgb(174,174,174)"/>
<ellipse cx="243.0" cy="8.9" rx="2.2" ry="1.6" fill="rgb(182,182,182)"/>
<ellipse cx="249.8" cy="8.8" rx="2.2" ry="1.6" fill="rgb(166,166,166)"/>
<ellipse cx="256.6" cy="8.4" rx="2.2" ry="1.6" fill="rgb(162,162,162)"/>
<ellipse cx="187.0" cy="16.5" rx="2.2" ry="1.6" fill="rgb(168,168,168)"/>
<ellipse cx="193.0" cy="16.6" rx="2.2" ry="1.6" fill="rgb(179,179,179)"/>
<ellipse cx="200.9" cy="16.2" rx="2.2" ry="1.6" fill="rgb(160,160,160)"/>
<ellipse cx="209.3" cy="15.5" rx="2.2" ry="1.6" fill="rgb(171,171,171)"/>
<ellipse cx="216.7" cy="15.7" rx="2.2" ry="1.6" fill="rgb(177,177,177)"/>
<ellipse cx="224.4" cy="16.7" rx="2.2" ry="1.6" fill="rgb(178,178,178)"/>
<ellipse cx="230.2" cy="16.3" rx="2.2" ry="1.6" fill="rgb(162,162,162)"/>
<ellipse cx="239.2" cy="16.0" rx="2.2" ry="1.6" fill="rgb(170,170,170)"/>
<ellipse cx="247.0" cy="17.1" rx="2.2" ry="1.6" fill="rgb(183,183,183)"/>
<ellipse cx="253.4" cy="16.4" rx="2.2" ry="1.6" fill="rgb(177,177,177)"/>
<ellipse cx="189.5" cy="24.6" rx="2.2" ry="1.6" fill="rgb(183,183,183)"/>
<ellipse cx="197.5" cy="23.6" rx="2.2" ry="1.6" fill="rgb(167,167,167)"/>
<ellipse cx="203.9" cy="23.1" rx="2.2" ry="1.6" fill="rgb(178,178,178)"/>
<ellipse cx="212.9" cy="23.3" rx="2.2" ry="1.6" fill="rgb(178,178,178)"/>
<ellipse cx="220.2" cy="24.0" rx="2.2" ry="1.6" fill="rgb(175,175,175)"/>
<ellipse cx="227.7" cy="23.3" rx="2.2" ry="1.6" fill="rgb(176,176,176)"/>
<ellipse cx="234.3" cy="23.6" rx="2.2" ry="1.6" fill="rgb(178,178,178)"/>
<ellipse cx="242.6" cy="23.2" rx="2.2" ry="1.6" fill="rgb(182,182,182)"/>
<ellipse cx="250.0" cy="23.8" rx="2.2" ry="1.6" fill="rgb(158,158,158)"/>
<ellipse cx="257.3" cy="23.1" rx="2.2" ry="1.6" fill="rgb(175,175,175)"/>
<ellipse cx="185.7" cy="31.1" rx="2.2" ry="1.6" fill="rgb(177,177,177)"/>
<ellipse cx="194.2" cy="30.5" rx="2.2" ry="1.6" fill="rgb(180,180,180)"/>
<ellipse cx="201.7" cy="31.2" rx="2.2" ry="1.6" fill="rgb(183,183,183)"/>
<ellipse cx="209.4" cy="30.8" rx="2.2" ry="1.6" fill="rgb(172,172,172)"/>
<ellipse cx="215.3" cy="31.5" rx="2.2" ry="1.6" fill="rgb(182,182,182)"/>
<ellipse cx="223.5" cy="31.2" rx="2.2" ry="1.6" fill="rgb(176,176,176)"/>
<ellipse cx="231.5" cy="30.1" rx="2.2" ry="1.6" fill="rgb(178,178,178)"/>
<ellipse cx="238.7" cy="31.1" rx="2.2" ry="1.6" fill="rgb(169,169,169)"/>
<ellipse cx="246.2" cy="31.3" rx="2.2" ry="1.6" fill="rgb(174,174,174)"/>
<ellipse cx="253.9" cy="29.9" rx="2.2" ry="1.6" fill="rgb(162,162,162)"/>
<ellipse cx="190.0" cy="37.1" rx="2.2" ry="1.6" fill="rgb(170,170,170)"/>
<ellipse cx="196.7" cy="37.1" rx="2.2" ry="1.6" fill="rgb(162,162,162)"/>
<ellipse cx="204.3" cy="37.4" rx="2.2" ry="1.6" fill="rgb(163,163,163)"/>
<ellipse cx="211.3" cy="37.9" rx="2.2" ry="1.6" fill="rgb(168,168,168)"/>
<ellipse cx="219.9" cy="38.2" rx="2.2" ry="1.6" fill="rgb(164,164,164)"/>
<ellipse cx="228.0" cy="37.0" rx="2.2" ry="1.6" fill="rgb(168,168,168)"/>
<ellipse cx="234.3" cy="37.8" rx="2.2" ry="1.6" fill="rgb(161,161,161)"/>
<ellipse cx="242.9" cy="37.7" rx="2.2" ry="1.6" fill="rgb(159,159,159)"/>
<ellipse cx="249.9" cy="37.2" rx="2.2" ry="1.6" fill="rgb(172,172,172)"/>
<ellipse cx="256.9" cy="38.2" rx="2.2" ry="1.6" fill="rgb(183,183,183)"/>
<ellipse cx="185.7" cy="44.5" rx="2.2" ry="1.6" fill="rgb(173,173,173)"/>
<ellipse cx="193.6" cy="46.1" rx="2.2" ry="1.6" fill="rgb(183,183,183)"/>
<ellipse cx="201.2" cy="44.9" rx="2.2" ry="1.6" fill="rgb(181,181,181)"/>
<ellipse cx="207.5" cy="44.4" rx="2.2" ry="1.6" fill="rgb(173,173,173)"/>
<ellipse cx="216.2" cy="44.5" rx="2.2" ry="1.6" fill="rgb(174,174,174)"/>
<ellipse cx="224.3" cy="45.0" rx="2.2" ry="1.6" fill="rgb(169,169,169)"/>
<ellipse cx="230.5" cy="44.8" rx="2.2" ry="1.6" fill="rgb(183,183,183)"/>
<ellipse cx="238.3" cy="46.1" rx="2.2" ry="1.6" fill="rgb(181,181,181)"/>
<ellipse cx="246.2" cy="44.7" rx="2.2" ry="1.6" fill="rgb(183,183,183)"/>
<ellipse cx="253.5" cy="45.0" rx="2.2" ry="1.6" fill="rgb(166,166,166)"/>
<ellipse cx="188.9" cy="52.6" rx="2.2" ry="1.6" fill="rgb(169,169,169)"/>
<ellipse cx="196.8" cy="53.0" rx="2.2" ry="1.6" fill="rgb(179,179,179)"/>
<ellipse cx="203.7" cy="52.5" rx="2.2" ry="1.6" fill="rgb(165,165,165)"/>
<ellipse cx="213.1" cy="53.0" rx="2.2" ry="1.6" fill="rgb(164,164,164)"/>
<ellipse cx="219.2" cy="51.7" rx="2.2" ry="1.6" fill="rgb(183,183,183)"/>
<ellipse cx="226.8" cy="52.6" rx="2.2" ry="1.6" fill="rgb(170,170,170)"/>
<ellipse cx="235.0" cy="52.6" rx="2.2" ry="1.6" fill="rgb(177,177,177)"/>
<ellipse cx="241.4" cy="52.9" rx="2.2" ry="1.6" fill="rgb(166,166,166)"/>
<ellipse cx="249.8" cy="52.1" rx="2.2" ry="1.6" fill="rgb(166,166,166)"/>
<ellipse cx="257.3" cy="52.3" rx="2.2" ry="1.6" fill="rgb(167,167,167)"/>
<ellipse cx="185.9" cy="60.4" rx="2.2" ry="1.6" fill="rgb(181,181,181)"/>
<ellipse cx="193.6" cy="58.6" rx="2.2" ry="1.6" fill="rgb(178,178,178)"/>
<ellipse cx="200.9" cy="59.8" rx="2.2" ry="1.6" fill="rgb(176,176,176)"/>
<ellipse cx="208.8" cy="59.6" rx="2.2" ry="1.6" fill="rgb(181,181,181)"/>
<ellipse cx="215.8" cy="59.4" rx="2.2" ry="1.6" fill="rgb(180,180,180)"/>
<ellipse cx="222.9" cy="59.2" rx="2.2" ry="1.6" fill="rgb(179,179,179)"/>
<ellipse cx="230.1" cy="60.3" rx="2.2" ry="1.6" fill="rgb(176,176,176)"/>
<ellipse cx="238.4" cy="59.2" rx="2.2" ry="1.6" fill="rgb(178,178,178)"/>
<ellipse cx="246.8" cy="58.9" rx="2.2" ry="1.6" fill="rgb(170,170,170)"/>
<ellipse cx="253.6" cy="59.6" rx="2.2" ry="1.6" fill="rgb(167,167,167)"/>
<ellipse cx="189.2" cy="67.4" rx="2.2" ry="1.6" fill="rgb(178,178,178)"/>
<ellipse cx="197.5" cy="65.9" rx="2.2" ry="1.6" fill="rgb(177,177,177)"/>
<ellipse cx="205.7" cy="67.8" rx="2.2" ry="1.6" fill="rgb(176,176,176)"/>
<ellipse cx="211.3" cy="67.5" rx="2.2" ry="1.6" fill="rgb(164,164,164)"/>
<ellipse cx="220.0" cy="67.7" rx="2.2" ry="1.6" fill="rgb(176,176,176)"/>
<ellipse cx="226.5" cy="66.4" rx="2.2" ry="1.6" fill="rgb(182,182,182)"/>
<ellipse cx="234.0" cy="67.0" rx="2.2" ry="1.6" fill="rgb(169,169,169)"/>
<ellipse cx="241.5" cy="67.0" rx="2.2" ry="1.6" fill="rgb(159,159,159)"/>
<ellipse cx="248.9" cy="66.6" rx="2.2" ry="1.6" fill="rgb(160,160,160)"/>
<ellipse cx="256.3" cy="67.0" rx="2.2" ry="1.6" fill="rgb(177,177,177)"/>
<ellipse cx="186.2" cy="74.0" rx="2.2" ry="1.6" fill="rgb(182,182,182)"/>
<ellipse cx="193.2" cy="73.1" rx="2.2" ry="1.6" fill="rgb(176,176,176)"/>
<ellipse cx="200.3" cy="74.3" rx="2.2" ry="1.6" fill="rgb(171,171,171)"/>
<ellipse cx="209.3" cy="74.1" rx="2.2" ry="1.6" fill="rgb(174,174,174)"/>
<ellipse cx="215.5" cy="74.1" rx="2.2" ry="1.6" fill="rgb(165,165,165)"/>
<ellipse cx="224.0" cy="74.0" rx="2.2" ry="1.6" fill="rgb(162,162,162)"/>
<ellipse cx="230.5" cy="73.7" rx="2.2" ry="1.6" fill="rgb(177,177,177)"/>
<ellipse cx="237.9" cy="74.4" rx="2.2" ry="1.6" fill="rgb(175,175,175)"/>
<ellipse cx="245.2" cy="74.3" rx="2.2" ry="1.6" fill="rgb(160,160,160)"/>
<ellipse cx="252.7" cy="74.2" rx="2.2" ry="1.6" fill="rgb(164,164,164)"/>
<ellipse cx="188.8" cy="81.7" rx="2.2" ry="1.6" fill="rgb(159,159,159)"/>
<ellipse cx="196.5" cy="82.1" rx="2.2" ry="1.6" fill="rgb(175,175,175)"/>
<ellipse cx="204.1" cy="80.4" rx="2.2" ry="1.6" fill="rgb(183,183,183)"/>
<ellipse cx="212.5" cy="81.8" rx="2.2" ry="1.6" fill="rgb(162,162,162)"/>
<ellipse cx="219.9" cy="80.9" rx="2.2" ry="1.6" fill="rgb(164,164,164)"/>
<ellipse cx="226.9" cy="81.4" rx="2.2" ry="1.6" fill="rgb(167,167,167)"/>
<ellipse cx="234.5" cy="80.5" rx="2.2" ry="1.6" fill="rgb(179,179,179)"/>
<ellipse cx="242.5" cy="81.8" rx="2.2" ry="1.6" fill="rgb(169,169,169)"/>
<ellipse cx="250.4" cy="81.2" rx="2.2" ry="1.6" fill="rgb(173,173,173)"/>
<ellipse cx="257.3" cy="81.7" rx="2.2" ry="1.6" fill="rgb(168,168,168)"/>
<ellipse cx="186.8" cy="88.4" rx="2.2" ry="1.6" fill="rgb(177,177,177)"/>
<ellipse cx="192.5" cy="88.3" rx="2.2" ry="1.6" fill="rgb(181,181,181)"/>
<ellipse cx="201.2" cy="88.3" rx="2.2" ry="1.6" fill="rgb(170,170,170)"/>
<ellipse cx="207.7" cy="87.7" rx="2.2" ry="1.6" fill="rgb(162,162,162)"/>
<ellipse cx="215.7" cy="88.2" rx="2.2" ry="1.6" fill="rgb(181,181,181)"/>
<ellipse cx="222.8" cy="87.9" rx="2.2" ry="1.6" fill="rgb(165,165,165)"/>
<ellipse cx="230.3" cy="88.0" rx="2.2" ry="1.6" fill="rgb(164,164,164)"/>
<ellipse cx="238.5" cy="87.5" rx="2.2" ry="1.6" fill="rgb(182,182,182)"/>
<ellipse cx="245.7" cy="89.3" rx="2.2" ry="1.6" fill="rgb(176,176,176)"/>
<ellipse cx="253.8" cy="88.3" rx="2.2" ry="1.6" fill="rgb(182,182,182)"/>
<ellipse cx="190.2" cy="94.9" rx="2.2" ry="1.6" fill="rgb(163,163,163)"/>
<ellipse cx="196.2" cy="95.1" rx="2.2" ry="1.6" fill="rgb(160,160,160)"/>
<ellipse cx="204.5" cy="96.5" rx="2.2" ry="1.6" fill="rgb(167,167,167)"/>
<ellipse cx="211.8" cy="95.5" rx="2.2" ry="1.6" fill="rgb(165,165,165)"/>
<ellipse cx="220.2" cy="96.0" rx="2.2" ry="1.6" fill="rgb(162,162,162)"/>
<ellipse cx="226.7" cy="95.9" rx="2.2" ry="1.6" fill="rgb(182,182,182)"/>
<ellipse cx="235.0" cy="95.5" rx="2.2" ry="1.6" fill="rgb(183,183,183)"/>
<ellipse cx="241.2" cy="94.7" rx="2.2" ry="1.6" fill="rgb(178,178,178)"/>
<ellipse cx="249.5" cy="94.7" rx="2.2" ry="1.6" fill="rgb(172,172,172)"/>
<ellipse cx="186.0" cy="103.7" rx="2.2" ry="1.6" fill="rgb(159,159,159)"/>
<ellipse cx="193.0" cy="101.9" rx="2.2" ry="1.6" fill="rgb(168,168,168)"/>
<ellipse cx="200.1" cy="102.3" rx="2.2" ry="1.6" fill="rgb(168,168,168)"/>
<ellipse cx="208.1" cy="101.9" rx="2.2" ry="1.6" fill="rgb(159,159,159)"/>
<ellipse cx="216.9" cy="102.2" rx="2.2" ry="1.6" fill="rgb(171,171,171)"/>
<ellipse cx="223.3" cy="102.9" rx="2.2" ry="1.6" fill="rgb(160,160,160)"/>
<ellipse cx="230.6" cy="102.0" rx="2.2" ry="1.6" fill="rgb(172,172,172)"/>
<ellipse cx="239.3" cy="103.0" rx="2.2" ry="1.6" fill="rgb(180,180,180)"/>
<ellipse cx="245.4" cy="101.8" rx="2.2" ry="1.6" fill="rgb(172,172,172)"/>
<ellipse cx="253.5" cy="102.9" rx="2.2" ry="1.6" fill="rgb(168,168,168)"/>
<ellipse cx="189.6" cy="110.7" rx="2.2" ry="1.6" fill="rgb(164,164,164)"/>
<ellipse cx="196.4" cy="109.6" rx="2.2" ry="1.6" fill="rgb(160,160,160)"/>
<ellipse cx="205.2" cy="110.6" rx="2.2" ry="1.6" fill="rgb(166,166,166)"/>
<ellipse cx="211.5" cy="109.2" rx="2.2" ry="1.6" fill="rgb(164,164,164)"/>
<ellipse cx="218.9" cy="109.9" rx="2.2" ry="1.6" fill="rgb(173,173,173)"/>
<ellipse cx="226.7" cy="109.1" rx="2.2" ry="1.6" fill="rgb(176,176,176)"/>
<ellipse cx="233.8" cy="109.4" rx="2.2" ry="1.6" fill="rgb(165,165,165)"/>
<ellipse cx="241.9" cy="109.2" rx="2.2" ry="1.6" fill="rgb(169,169,169)"/>
<ellipse cx="249.3" cy="110.5" rx="2.2" ry="1.6" fill="rgb(172,172,172)"/>
<ellipse cx="258.0" cy="110.3" rx="2.2" ry="1.6" fill="rgb(177,177,177)"/>
</g>
</g></g>
<text x="26.3" y="9.6" font-size="14.5" text-anchor="start" fill="#000" stroke="#000" stroke-width="0.05" font-weight="bold" >a</text>
<text x="152" y="11.9" font-size="14.5" text-anchor="start" fill="#000" stroke="#000" stroke-width="0.05" font-weight="bold" >b</text>
<text x="276" y="10" font-size="14.5" text-anchor="start" fill="#000" stroke="#000" stroke-width="0.05" font-weight="bold" >c</text>
<text x="92.5" y="14.3" font-size="13" text-anchor="middle" fill="#000" stroke="#000" stroke-width="0.18" font-weight="normal" letter-spacing="0.5">-0.5 V,</text>
<text x="91.8" y="30.7" font-size="13" text-anchor="middle" fill="#000" stroke="#000" stroke-width="0.18" font-weight="normal" >Defect 1</text>
<text x="218.3" y="14.3" font-size="13" text-anchor="middle" fill="#000" stroke="#000" stroke-width="0.18" font-weight="normal" letter-spacing="0.5">+1.6 V,</text>
<text x="217.6" y="30.7" font-size="13" text-anchor="middle" fill="#000" stroke="#000" stroke-width="0.18" font-weight="normal" >Defect 1</text>
<circle cx="89.5" cy="66.5" r="20" fill="none" stroke="#14147a" stroke-width="1.5"/>
<circle cx="214.8" cy="66.5" r="20.2" fill="none" stroke="#14147a" stroke-width="1.5"/>
<circle cx="63.2" cy="93.5" r="3.9" fill="#ff0000" stroke="#fff" stroke-width="1.4"/>
<circle cx="188.2" cy="93.3" r="3.9" fill="#ff0000" stroke="#fff" stroke-width="1.4"/>
<line x1="108.8" y1="97.3" x2="134.9" y2="97.3" stroke="#000" stroke-width="2"/>
<line x1="235.1" y1="96.6" x2="260.9" y2="96.6" stroke="#000" stroke-width="2"/>
<rect x="309.7" y="1.8" width="362.50000000000006" height="82.9" fill="none" stroke="#000" stroke-width="1.45"/>
<line x1="309.00" y1="84.7" x2="309.00" y2="81.7" stroke="#000" stroke-width="1.1"/>
<text x="309.00" y="94.0" font-size="8.2" text-anchor="middle" fill="#000" stroke="#000" stroke-width="0.25" font-weight="normal" >−1000</text>
<line x1="354.38" y1="84.7" x2="354.38" y2="81.7" stroke="#000" stroke-width="1.1"/>
<text x="354.38" y="94.0" font-size="8.2" text-anchor="middle" fill="#000" stroke="#000" stroke-width="0.25" font-weight="normal" >−750</text>
<line x1="399.75" y1="84.7" x2="399.75" y2="81.7" stroke="#000" stroke-width="1.1"/>
<text x="399.75" y="94.0" font-size="8.2" text-anchor="middle" fill="#000" stroke="#000" stroke-width="0.25" font-weight="normal" >−500</text>
<line x1="445.12" y1="84.7" x2="445.12" y2="81.7" stroke="#000" stroke-width="1.1"/>
<text x="445.12" y="94.0" font-size="8.2" text-anchor="middle" fill="#000" stroke="#000" stroke-width="0.25" font-weight="normal" >−250</text>
<line x1="490.50" y1="84.7" x2="490.50" y2="81.7" stroke="#000" stroke-width="1.1"/>
<text x="490.50" y="94.0" font-size="8.2" text-anchor="middle" fill="#000" stroke="#000" stroke-width="0.25" font-weight="normal" >0</text>
<line x1="535.88" y1="84.7" x2="535.88" y2="81.7" stroke="#000" stroke-width="1.1"/>
<text x="535.88" y="94.0" font-size="8.2" text-anchor="middle" fill="#000" stroke="#000" stroke-width="0.25" font-weight="normal" >250</text>
<line x1="581.25" y1="84.7" x2="581.25" y2="81.7" stroke="#000" stroke-width="1.1"/>
<text x="581.25" y="94.0" font-size="8.2" text-anchor="middle" fill="#000" stroke="#000" stroke-width="0.25" font-weight="normal" >500</text>
<line x1="626.62" y1="84.7" x2="626.62" y2="81.7" stroke="#000" stroke-width="1.1"/>
<text x="626.62" y="94.0" font-size="8.2" text-anchor="middle" fill="#000" stroke="#000" stroke-width="0.25" font-weight="normal" >750</text>
<line x1="672.00" y1="84.7" x2="672.00" y2="81.7" stroke="#000" stroke-width="1.1"/>
<text x="672.00" y="94.0" font-size="8.2" text-anchor="middle" fill="#000" stroke="#000" stroke-width="0.25" font-weight="normal" >1000</text>
<line x1="309.7" y1="81.00" x2="312.7" y2="81.00" stroke="#000" stroke-width="1.1"/>
<text x="306" y="83.90" font-size="8.2" text-anchor="end" fill="#000" stroke="#000" stroke-width="0.25" font-weight="normal" >0</text>
<line x1="309.7" y1="50.40" x2="312.7" y2="50.40" stroke="#000" stroke-width="1.1"/>
<text x="306" y="53.30" font-size="8.2" text-anchor="end" fill="#000" stroke="#000" stroke-width="0.25" font-weight="normal" >1</text>
<line x1="309.7" y1="19.80" x2="312.7" y2="19.80" stroke="#000" stroke-width="1.1"/>
<text x="306" y="22.70" font-size="8.2" text-anchor="end" fill="#000" stroke="#000" stroke-width="0.25" font-weight="normal" >2</text>
<text x="490.5" y="105.3" font-size="8.1" text-anchor="middle" fill="#000" stroke="#000" stroke-width="0.25" font-weight="normal" >Bias (mV)</text>
<text x="0" y="0" font-size="8.1" text-anchor="middle" transform="translate(295.6,43.2) rotate(-90)" stroke="#000">dI/dV (Arb. Units)</text>
<text x="483.5" y="18.5" font-size="13" text-anchor="start" fill="#000" stroke="#000" stroke-width="0.18" font-weight="normal" >Defect 1</text>
<path d="M326.60,11.70 C327.13,11.60 328.55,10.38 329.80,11.10 C331.05,11.82 332.50,14.12 334.10,16.00 C335.70,17.88 337.62,20.27 339.40,22.40 C341.18,24.53 342.67,26.13 344.80,28.80 C346.93,31.47 349.90,35.92 352.20,38.40 C354.50,40.88 356.47,42.10 358.60,43.70 C360.73,45.30 363.05,46.93 365.00,48.00 C366.95,49.07 368.17,49.22 370.30,50.10 C372.43,50.98 375.30,52.07 377.80,53.30 C380.30,54.53 382.63,56.02 385.30,57.50 C387.97,58.98 390.97,61.13 393.80,62.20 C396.63,63.27 399.47,63.57 402.30,63.90 C405.13,64.23 407.63,64.02 410.80,64.20 C413.97,64.38 418.13,64.15 421.30,65.00 C424.47,65.85 426.25,68.05 429.80,69.30 C433.35,70.55 438.33,71.43 442.60,72.50 C446.87,73.57 451.13,74.63 455.40,75.70 C459.67,76.77 463.22,78.08 468.20,78.90 C473.18,79.72 479.62,80.43 485.30,80.60 C490.98,80.77 497.22,80.18 502.30,79.90 C507.38,79.62 510.93,79.07 515.80,78.90 C520.67,78.73 526.25,79.17 531.50,78.90 C536.75,78.63 542.03,78.00 547.30,77.30 C552.57,76.60 557.85,75.45 563.10,74.70 C568.35,73.95 573.55,73.55 578.80,72.80 C584.05,72.05 589.33,71.07 594.60,70.20 C599.87,69.33 605.15,68.25 610.40,67.60 C615.65,66.95 620.85,66.87 626.10,66.30 C631.35,65.73 637.17,64.95 641.90,64.20 C646.63,63.45 652.40,62.20 654.50,61.80" fill="none" stroke="#ff0000" stroke-width="2.8" stroke-linejoin="round" stroke-linecap="square"/>
<path d="M326.60,28.80 C327.32,28.97 329.47,28.73 330.90,29.80 C332.33,30.87 333.42,33.07 335.20,35.20 C336.98,37.33 339.30,39.93 341.60,42.60 C343.90,45.27 346.52,48.72 349.00,51.20 C351.48,53.68 354.02,56.15 356.50,57.50 C358.98,58.85 361.77,58.93 363.90,59.30 C366.03,59.67 367.17,60.07 369.30,59.70 C371.43,59.33 374.40,57.10 376.70,57.10 C379.00,57.10 380.97,58.20 383.10,59.70 C385.23,61.20 387.72,64.15 389.50,66.10 C391.28,68.05 392.55,70.52 393.80,71.40 C395.05,72.28 395.77,70.80 397.00,71.40 C398.23,72.00 399.97,74.82 401.20,75.00 C402.43,75.18 403.15,75.77 404.40,72.50 C405.65,69.23 407.10,62.87 408.70,55.40 C410.30,47.93 412.40,35.63 414.00,27.70 C415.60,19.77 417.25,11.45 418.30,7.80 C419.35,4.15 419.60,5.63 420.30,5.80 C421.00,5.97 421.62,5.87 422.50,8.80 C423.38,11.73 424.38,17.40 425.60,23.40 C426.82,29.40 428.38,38.75 429.80,44.80 C431.22,50.85 432.50,55.62 434.10,59.70 C435.70,63.78 437.62,67.00 439.40,69.30 C441.18,71.60 442.13,72.18 444.80,73.50 C447.47,74.82 451.50,76.23 455.40,77.20 C459.30,78.17 463.93,78.73 468.20,79.30 C472.47,79.87 477.08,80.38 481.00,80.60 C484.92,80.82 487.43,80.72 491.70,80.60 C495.97,80.48 502.58,80.10 506.60,79.90 C510.62,79.70 512.52,79.40 515.80,79.40 C519.08,79.40 521.93,80.12 526.30,79.90 C530.67,79.68 537.85,78.83 542.00,78.10 C546.15,77.37 548.13,76.82 551.20,75.50 C554.27,74.18 557.55,70.95 560.40,70.20 C563.25,69.45 565.45,70.65 568.30,71.00 C571.15,71.35 574.43,72.43 577.50,72.30 C580.57,72.17 582.75,71.20 586.70,70.20 C590.65,69.20 596.38,66.95 601.20,66.30 C606.02,65.65 611.45,66.22 615.60,66.30 C619.75,66.38 621.72,66.90 626.10,66.80 C630.48,66.70 638.18,65.78 641.90,65.70 C645.62,65.62 646.30,66.20 648.40,66.30 C650.50,66.40 653.48,66.30 654.50,66.30" fill="none" stroke="#00008b" stroke-width="2.8" stroke-linejoin="round" stroke-linecap="square"/>
<rect x="582.5" y="6.6" width="84" height="33" rx="2" fill="#fff" fill-opacity="0.8" stroke="#d8d8d8" stroke-width="0.8"/>
<line x1="585.4" y1="14.8" x2="609" y2="14.8" stroke="#ff0000" stroke-width="2.5"/>
<line x1="585.4" y1="29.7" x2="609" y2="29.7" stroke="#00008b" stroke-width="2.5"/>
<text x="616.4" y="18.6" font-size="10.5" text-anchor="start" fill="#000" stroke="#000" stroke-width="0.18" font-weight="normal" >Off defect</text>
<text x="616.4" y="33.5" font-size="10.5" text-anchor="start" fill="#000" stroke="#000" stroke-width="0.18" font-weight="normal" >On defect</text>
<rect x="39.1" y="134.6" width="31.56" height="258.0" fill="#b2e5f7"/>
<rect x="355.8" y="134.6" width="31.70" height="258.0" fill="#dcedcb"/>
<line x1="355.6" y1="134.6" x2="355.6" y2="392.6" stroke="#d6e6f2" stroke-width="0.8"/>
<line x1="70.4" y1="134.6" x2="70.4" y2="392.6" stroke="#a6dcf2" stroke-width="0.9"/>
<rect x="192.5" y="367.00" width="4.30" height="25.60" fill="#ff0000"/>
<rect x="196.8" y="354.20" width="4.00" height="38.40" fill="#ff0000"/>
<rect x="200.8" y="367.00" width="4.20" height="25.60" fill="#ff0000"/>
<rect x="205" y="354.20" width="5.00" height="38.40" fill="#ff0000"/>
<rect x="210" y="354.20" width="5.00" height="38.40" fill="#ff0000"/>
<rect x="215" y="277.40" width="5.00" height="115.20" fill="#ff0000"/>
<rect x="220" y="290.20" width="4.60" height="102.40" fill="#ff0000"/>
<rect x="224.6" y="239.00" width="4.60" height="153.60" fill="#ff0000"/>
<rect x="264.8" y="367.00" width="6.50" height="25.60" fill="#0000ff"/>
<rect x="271.3" y="379.80" width="6.50" height="12.80" fill="#0000ff"/>
<line x1="223.4" y1="181.8" x2="223.4" y2="290.20" stroke="#ff0000" stroke-opacity="0.5" stroke-width="1.8" stroke-dasharray="5.9,2.3"/>
<line x1="267.8" y1="134.6" x2="267.8" y2="367.00" stroke="#0000ff" stroke-opacity="0.55" stroke-width="1.7" stroke-dasharray="5.9,2.3"/>
<rect x="221.2" y="134.6" width="5.6" height="47.2" fill="#ff0000"/>
<rect x="309.3" y="134.6" width="5.3" height="47.2" fill="#ff0000"/>
<rect x="265.2" y="181.8" width="5.7" height="47.5" fill="#0000ff"/>
<rect x="39.1" y="134.6" width="348.4" height="258.0" fill="none" stroke="#000" stroke-width="1.8"/>
<line x1="39.1" y1="181.8" x2="387.5" y2="181.8" stroke="#000" stroke-width="1.6"/>
<line x1="39.1" y1="229.3" x2="387.5" y2="229.3" stroke="#000" stroke-width="1.6"/>
<line x1="73.9" y1="159.2" x2="218.1" y2="159.2" stroke="#000" stroke-width="1.35"/>
<path d="M70.9,159.2 L76.9,156.29999999999998 L76.9,162.1 Z" fill="#000"/>
<path d="M221.1,159.2 L215.1,156.29999999999998 L215.1,162.1 Z" fill="#000"/>
<line x1="229.9" y1="159.2" x2="306.2" y2="159.2" stroke="#000" stroke-width="1.35"/>
<path d="M226.9,159.2 L232.9,156.29999999999998 L232.9,162.1 Z" fill="#000"/>
<path d="M309.2,159.2 L303.2,156.29999999999998 L303.2,162.1 Z" fill="#000"/>
<line x1="274.2" y1="199.5" x2="353.8" y2="199.5" stroke="#000" stroke-width="1.35"/>
<path d="M271.2,199.5 L277.2,196.6 L277.2,202.4 Z" fill="#000"/>
<path d="M356.8,199.5 L350.8,196.6 L350.8,202.4 Z" fill="#000"/>
<text x="148.6" y="175.6" font-size="15.7" text-anchor="middle" fill="#000" stroke="#000" stroke-width="0.08" font-weight="normal" >2.94 eV</text>
<text x="271.2" y="175.6" font-size="15.7" text-anchor="middle" fill="#000" stroke="#000" stroke-width="0.08" font-weight="normal" >1.95 eV</text>
<text x="314.4" y="216.6" font-size="15.7" text-anchor="middle" fill="#000" stroke="#000" stroke-width="0.08" font-weight="normal" >1.7 eV</text>
<text x="230.4" y="149.3" font-size="15" text-anchor="start" fill="#000" stroke="#000" stroke-width="0.08" font-weight="normal" >|g&gt;</text>
<text x="318.8" y="149.3" font-size="15" text-anchor="start" fill="#000" stroke="#000" stroke-width="0.08" font-weight="normal" >|e&gt;</text>
<text x="42.7" y="150.2" font-size="14.5" text-anchor="start" fill="#000" stroke="#000" stroke-width="0.05" font-weight="bold" >d</text>
<text x="44.1" y="194.2" font-size="14.5" text-anchor="start" fill="#000" stroke="#000" stroke-width="0.05" font-weight="bold" >e</text>
<text x="45.7" y="245.7" font-size="14.5" text-anchor="start" fill="#000" stroke="#000" stroke-width="0.05" font-weight="bold" >f</text>
<line x1="80.99" y1="392.6" x2="80.99" y2="389.40000000000003" stroke="#000" stroke-width="1.2"/>
<text x="80.99" y="405.3" font-size="12" text-anchor="middle" fill="#000" stroke="#000" stroke-width="0.18" font-weight="normal" >−3</text>
<line x1="132.66" y1="392.6" x2="132.66" y2="389.40000000000003" stroke="#000" stroke-width="1.2"/>
<text x="132.66" y="405.3" font-size="12" text-anchor="middle" fill="#000" stroke="#000" stroke-width="0.18" font-weight="normal" >−2</text>
<line x1="184.33" y1="392.6" x2="184.33" y2="389.40000000000003" stroke="#000" stroke-width="1.2"/>
<text x="184.33" y="405.3" font-size="12" text-anchor="middle" fill="#000" stroke="#000" stroke-width="0.18" font-weight="normal" >−1</text>
<line x1="236.00" y1="392.6" x2="236.00" y2="389.40000000000003" stroke="#000" stroke-width="1.2"/>
<text x="236.00" y="405.3" font-size="12" text-anchor="middle" fill="#000" stroke="#000" stroke-width="0.18" font-weight="normal" >0</text>
<line x1="287.67" y1="392.6" x2="287.67" y2="389.40000000000003" stroke="#000" stroke-width="1.2"/>
<text x="287.67" y="405.3" font-size="12" text-anchor="middle" fill="#000" stroke="#000" stroke-width="0.18" font-weight="normal" >1</text>
<line x1="339.34" y1="392.6" x2="339.34" y2="389.40000000000003" stroke="#000" stroke-width="1.2"/>
<text x="339.34" y="405.3" font-size="12" text-anchor="middle" fill="#000" stroke="#000" stroke-width="0.18" font-weight="normal" >2</text>
<line x1="39.1" y1="392.60" x2="42.6" y2="392.60" stroke="#000" stroke-width="1.2"/>
<text x="36.2" y="396.90" font-size="12" text-anchor="end" fill="#000" stroke="#000" stroke-width="0.18" font-weight="normal" >0</text>
<line x1="39.1" y1="328.60" x2="42.6" y2="328.60" stroke="#000" stroke-width="1.2"/>
<text x="36.2" y="332.90" font-size="12" text-anchor="end" fill="#000" stroke="#000" stroke-width="0.18" font-weight="normal" >5</text>
<line x1="39.1" y1="264.60" x2="42.6" y2="264.60" stroke="#000" stroke-width="1.2"/>
<text x="36.2" y="268.90" font-size="12" text-anchor="end" fill="#000" stroke="#000" stroke-width="0.18" font-weight="normal" >10</text>
<text x="212.6" y="419.3" font-size="12.4" text-anchor="middle" fill="#000" stroke="#000" stroke-width="0.18" font-weight="normal" >Energy (eV)</text>
<text x="0" y="0" font-size="12.4" stroke-width="0.18" text-anchor="middle" transform="translate(20.3,328) rotate(-90)" stroke="#000">Bin counts</text>
<text x="0" y="0" font-size="15.6" stroke-width="0.08" text-anchor="middle" fill="#1f4a72" transform="translate(50.3,297.8) rotate(90)" stroke="#1f4a72">Valence</text>
<text x="0" y="0" font-size="15.7" stroke-width="0.08" text-anchor="middle" fill="#3c8c2a" transform="translate(366.5,305) rotate(90)" stroke="#3c8c2a">Conduction</text>
<text x="2.6" y="163" font-size="17.5" stroke-width="0.08" fill="#ff0000" stroke="#ff0000">NV<tspan font-size="11" dy="-7.5">-</tspan></text>
<text x="0" y="174.3" font-size="9.6" fill="#ff2020" stroke="#ff2020">(ref.<tspan font-size="6.4" dy="-3.0">35,36</tspan><tspan dy="3.0">)</tspan></text>
<text x="5.0" y="212.8" font-size="17" stroke-width="0.08" fill="#0000ff" stroke="#0000ff">P1</text>
<text x="0" y="223.6" font-size="9.6" fill="#3c3cc8" stroke="#3c3cc8">(ref.<tspan font-size="6.4" dy="-3.0">37,38</tspan><tspan dy="3.0">)</tspan></text>
<rect x="431.7" y="127.5" width="243.10" height="120.50" fill="none" stroke="#000" stroke-width="1.45"/>
<line x1="434.50" y1="248.0" x2="434.50" y2="245.0" stroke="#000" stroke-width="1.1"/>
<text x="434.50" y="256.9" font-size="8.4" text-anchor="middle" fill="#000" stroke="#000" stroke-width="0.25" font-weight="normal" >−1500</text>
<line x1="474.20" y1="248.0" x2="474.20" y2="245.0" stroke="#000" stroke-width="1.1"/>
<text x="474.20" y="256.9" font-size="8.4" text-anchor="middle" fill="#000" stroke="#000" stroke-width="0.25" font-weight="normal" >−1000</text>
<line x1="513.90" y1="248.0" x2="513.90" y2="245.0" stroke="#000" stroke-width="1.1"/>
<text x="513.90" y="256.9" font-size="8.4" text-anchor="middle" fill="#000" stroke="#000" stroke-width="0.25" font-weight="normal" >−500</text>
<line x1="553.60" y1="248.0" x2="553.60" y2="245.0" stroke="#000" stroke-width="1.1"/>
<text x="553.60" y="256.9" font-size="8.4" text-anchor="middle" fill="#000" stroke="#000" stroke-width="0.25" font-weight="normal" >0</text>
<line x1="593.30" y1="248.0" x2="593.30" y2="245.0" stroke="#000" stroke-width="1.1"/>
<text x="593.30" y="256.9" font-size="8.4" text-anchor="middle" fill="#000" stroke="#000" stroke-width="0.25" font-weight="normal" >500</text>
<line x1="633.00" y1="248.0" x2="633.00" y2="245.0" stroke="#000" stroke-width="1.1"/>
<text x="633.00" y="256.9" font-size="8.4" text-anchor="middle" fill="#000" stroke="#000" stroke-width="0.25" font-weight="normal" >1000</text>
<line x1="672.70" y1="248.0" x2="672.70" y2="245.0" stroke="#000" stroke-width="1.1"/>
<text x="672.70" y="256.9" font-size="8.4" text-anchor="middle" fill="#000" stroke="#000" stroke-width="0.25" font-weight="normal" >1500</text>
<line x1="431.7" y1="245.00" x2="434.7" y2="245.00" stroke="#000" stroke-width="1.1"/>
<text x="429.2" y="248.00" font-size="8.4" text-anchor="end" fill="#000" stroke="#000" stroke-width="0.25" font-weight="normal" >0</text>
<line x1="431.7" y1="221.10" x2="434.7" y2="221.10" stroke="#000" stroke-width="1.1"/>
<text x="429.2" y="224.10" font-size="8.4" text-anchor="end" fill="#000" stroke="#000" stroke-width="0.25" font-weight="normal" >1</text>
<line x1="431.7" y1="197.20" x2="434.7" y2="197.20" stroke="#000" stroke-width="1.1"/>
<text x="429.2" y="200.20" font-size="8.4" text-anchor="end" fill="#000" stroke="#000" stroke-width="0.25" font-weight="normal" >2</text>
<line x1="431.7" y1="173.30" x2="434.7" y2="173.30" stroke="#000" stroke-width="1.1"/>
<text x="429.2" y="176.30" font-size="8.4" text-anchor="end" fill="#000" stroke="#000" stroke-width="0.25" font-weight="normal" >3</text>
<line x1="431.7" y1="149.40" x2="434.7" y2="149.40" stroke="#000" stroke-width="1.1"/>
<text x="429.2" y="152.40" font-size="8.4" text-anchor="end" fill="#000" stroke="#000" stroke-width="0.25" font-weight="normal" >4</text>
<text x="553.5" y="267.5" font-size="8.7" text-anchor="middle" fill="#000" stroke="#000" stroke-width="0.25" font-weight="normal" >Bias (mV)</text>
<text x="0" y="0" font-size="8.8" text-anchor="middle" transform="translate(419.8,188.2) rotate(-90)" stroke="#000">dI/dV (Arb. Units)</text>
<text x="414.5" y="138" font-size="14.5" text-anchor="start" fill="#000" stroke="#000" stroke-width="0.05" font-weight="bold" >g</text>
<path d="M441.70,176.00 C442.07,175.75 443.18,174.60 443.90,174.50 C444.62,174.40 445.12,174.62 446.00,175.40 C446.88,176.18 448.13,177.68 449.20,179.20 C450.27,180.72 451.40,183.08 452.40,184.50 C453.40,185.92 454.32,187.23 455.20,187.70 C456.08,188.17 456.75,186.77 457.70,187.30 C458.65,187.83 459.83,189.33 460.90,190.90 C461.97,192.47 463.03,195.28 464.10,196.70 C465.17,198.12 466.05,198.42 467.30,199.40 C468.55,200.38 470.18,201.35 471.60,202.60 C473.02,203.85 474.38,205.83 475.80,206.90 C477.22,207.97 478.85,208.28 480.10,209.00 C481.35,209.72 482.23,210.05 483.30,211.20 C484.37,212.35 485.37,214.42 486.50,215.90 C487.63,217.38 488.85,219.28 490.10,220.10 C491.35,220.92 492.65,220.52 494.00,220.80 C495.35,221.08 496.78,221.27 498.20,221.80 C499.62,222.33 501.07,223.47 502.50,224.00 C503.93,224.53 505.38,224.40 506.80,225.00 C508.22,225.60 509.58,226.95 511.00,227.60 C512.42,228.25 513.87,228.43 515.30,228.90 C516.73,229.37 518.33,229.70 519.60,230.40 C520.87,231.10 521.62,232.42 522.90,233.10 C524.18,233.78 525.83,234.13 527.30,234.50 C528.77,234.87 530.23,234.93 531.70,235.30 C533.17,235.67 534.65,236.10 536.10,236.70 C537.55,237.30 538.95,238.42 540.40,238.90 C541.85,239.38 543.33,239.53 544.80,239.60 C546.27,239.67 547.98,239.10 549.20,239.30 C550.42,239.50 551.13,240.30 552.10,240.80 C553.07,241.30 553.90,242.25 555.00,242.30 C556.10,242.35 557.48,241.47 558.70,241.10 C559.92,240.73 560.97,240.10 562.30,240.10 C563.63,240.10 565.35,241.30 566.70,241.10 C568.05,240.90 569.18,240.23 570.40,238.90 C571.62,237.57 572.78,235.17 574.00,233.10 C575.22,231.03 576.48,228.22 577.70,226.50 C578.92,224.78 580.22,223.77 581.30,222.80 C582.38,221.83 583.35,221.92 584.20,220.70 C585.05,219.48 585.67,218.18 586.40,215.50 C587.13,212.82 587.87,208.37 588.60,204.60 C589.33,200.83 590.17,196.60 590.80,192.90 C591.43,189.20 591.77,184.63 592.40,182.40 C593.03,180.17 593.85,179.50 594.60,179.50 C595.35,179.50 596.03,180.60 596.90,182.40 C597.77,184.20 598.87,187.93 599.80,190.30 C600.73,192.67 601.48,195.40 602.50,196.60 C603.52,197.80 604.77,197.50 605.90,197.50 C607.03,197.50 608.17,196.30 609.30,196.60 C610.43,196.90 611.38,198.17 612.70,199.30 C614.02,200.43 615.70,202.83 617.20,203.40 C618.70,203.97 620.20,202.82 621.70,202.70 C623.20,202.58 624.70,202.52 626.20,202.70 C627.70,202.88 629.20,203.62 630.70,203.80 C632.20,203.98 634.08,204.55 635.20,203.80 C636.32,203.05 636.47,202.67 637.40,199.30 C638.33,195.93 639.67,187.92 640.80,183.60 C641.93,179.28 643.07,175.47 644.20,173.40 C645.33,171.33 646.28,172.32 647.60,171.20 C648.92,170.08 650.78,169.15 652.10,166.70 C653.42,164.25 654.38,160.27 655.50,156.50 C656.62,152.73 657.80,147.47 658.80,144.10 C659.80,140.73 660.55,138.17 661.50,136.30 C662.45,134.43 664.00,133.47 664.50,132.90" fill="none" stroke="#0000ff" stroke-width="3" stroke-linejoin="round" stroke-linecap="square"/>
<clipPath id="cg"><rect x="482" y="131" width="53" height="53"/></clipPath>
<g clip-path="url(#cg)"><g filter="url(#afm)">
<rect x="482" y="131" width="53" height="53" fill="rgb(115,115,115)"/>
<g filter="url(#blur2)">
<line x1="463" y1="121.7" x2="553" y2="79.3" stroke="rgb(168,168,168)" stroke-width="4.2"/>
<line x1="463" y1="131.9" x2="553" y2="89.7" stroke="rgb(168,168,168)" stroke-width="4.2"/>
<line x1="463" y1="142.2" x2="553" y2="99.9" stroke="rgb(168,168,168)" stroke-width="4.2"/>
<line x1="463" y1="152.6" x2="553" y2="110.2" stroke="rgb(168,168,168)" stroke-width="4.2"/>
<line x1="463" y1="162.8" x2="553" y2="120.5" stroke="rgb(168,168,168)" stroke-width="4.2"/>
<line x1="463" y1="173.2" x2="553" y2="130.8" stroke="rgb(168,168,168)" stroke-width="4.2"/>
<line x1="463" y1="183.5" x2="553" y2="141.2" stroke="rgb(168,168,168)" stroke-width="4.2"/>
<line x1="463" y1="193.8" x2="553" y2="151.4" stroke="rgb(168,168,168)" stroke-width="4.2"/>
<line x1="463" y1="204.1" x2="553" y2="161.8" stroke="rgb(168,168,168)" stroke-width="4.2"/>
<line x1="463" y1="214.3" x2="553" y2="172.0" stroke="rgb(168,168,168)" stroke-width="4.2"/>
<line x1="463" y1="224.7" x2="553" y2="182.3" stroke="rgb(168,168,168)" stroke-width="4.2"/>
<circle cx="506.0" cy="160.7" r="1.8" fill="rgb(168,168,168)" opacity="0.5"/>
<circle cx="508.9" cy="162.1" r="1.8" fill="rgb(119,119,119)" opacity="0.5"/>
<circle cx="515.4" cy="173.0" r="1.6" fill="rgb(113,113,113)" opacity="0.5"/>
<circle cx="486.8" cy="173.9" r="1.3" fill="rgb(153,153,153)" opacity="0.5"/>
<circle cx="534.1" cy="182.1" r="1.9" fill="rgb(150,150,150)" opacity="0.5"/>
<circle cx="490.3" cy="131.8" r="1.3" fill="rgb(142,142,142)" opacity="0.5"/>
<circle cx="492.1" cy="143.8" r="1.8" fill="rgb(109,109,109)" opacity="0.5"/>
<circle cx="505.3" cy="175.6" r="2.0" fill="rgb(142,142,142)" opacity="0.5"/>
<circle cx="508.5" cy="166.1" r="1.5" fill="rgb(137,137,137)" opacity="0.5"/>
<circle cx="534.9" cy="183.8" r="2.0" fill="rgb(163,163,163)" opacity="0.5"/>
<circle cx="498.7" cy="143.2" r="1.3" fill="rgb(126,126,126)" opacity="0.5"/>
<circle cx="522.6" cy="152.2" r="1.7" fill="rgb(163,163,163)" opacity="0.5"/>
<circle cx="532.8" cy="175.9" r="1.5" fill="rgb(107,107,107)" opacity="0.5"/>
<circle cx="530.2" cy="155.9" r="1.7" fill="rgb(172,172,172)" opacity="0.5"/>
<circle cx="485.9" cy="164.4" r="1.5" fill="rgb(159,159,159)" opacity="0.5"/>
<circle cx="486.6" cy="148.6" r="2.1" fill="rgb(171,171,171)" opacity="0.5"/>
<circle cx="488.3" cy="144.1" r="1.3" fill="rgb(114,114,114)" opacity="0.5"/>
<circle cx="524.2" cy="140.4" r="1.7" fill="rgb(144,144,144)" opacity="0.5"/>
<circle cx="492.1" cy="169.8" r="2.0" fill="rgb(116,116,116)" opacity="0.5"/>
<circle cx="488.2" cy="153.3" r="1.5" fill="rgb(121,121,121)" opacity="0.5"/>
<circle cx="533.5" cy="173.6" r="2.3" fill="rgb(127,127,127)" opacity="0.5"/>
<circle cx="493.2" cy="151.9" r="2.0" fill="rgb(164,164,164)" opacity="0.5"/>
<circle cx="487.3" cy="183.4" r="1.5" fill="rgb(121,121,121)" opacity="0.5"/>
<circle cx="523.0" cy="148.4" r="1.3" fill="rgb(127,127,127)" opacity="0.5"/>
<circle cx="486.8" cy="161.9" r="1.9" fill="rgb(123,123,123)" opacity="0.5"/>
<circle cx="499" cy="177" r="3" fill="rgb(92,92,92)"/>
<circle cx="485" cy="134" r="3" fill="rgb(102,102,102)"/>
<circle cx="486" cy="181" r="4" fill="rgb(168,168,168)"/>
</g>
<g filter="url(#blur3)"><ellipse cx="512" cy="162" rx="6" ry="4" fill="rgb(204,204,204)"/></g>
</g></g>
<circle cx="511.7" cy="162.2" r="13.6" fill="none" stroke="#fff" stroke-width="1.5"/>
<line x1="504" y1="180" x2="529.8" y2="180" stroke="#000" stroke-width="2"/>
<text x="537.6" y="141.6" font-size="11.5" text-anchor="start" fill="#000" stroke="#000" stroke-width="0.18" font-weight="normal" >P1 center,</text>
<text x="537.6" y="155.7" font-size="11.5" text-anchor="start" fill="#000" stroke="#000" stroke-width="0.18" font-weight="normal" >Defect 2</text>
<rect x="431.6" y="276.8" width="244.00" height="120.20" fill="none" stroke="#000" stroke-width="1.45"/>
<line x1="431.50" y1="397.0" x2="431.50" y2="394.0" stroke="#000" stroke-width="1.1"/>
<text x="431.50" y="406.2" font-size="8.4" text-anchor="middle" fill="#000" stroke="#000" stroke-width="0.25" font-weight="normal" >−1000</text>
<line x1="462.00" y1="397.0" x2="462.00" y2="394.0" stroke="#000" stroke-width="1.1"/>
<text x="462.00" y="406.2" font-size="8.4" text-anchor="middle" fill="#000" stroke="#000" stroke-width="0.25" font-weight="normal" >−750</text>
<line x1="492.50" y1="397.0" x2="492.50" y2="394.0" stroke="#000" stroke-width="1.1"/>
<text x="492.50" y="406.2" font-size="8.4" text-anchor="middle" fill="#000" stroke="#000" stroke-width="0.25" font-weight="normal" >−500</text>
<line x1="523.00" y1="397.0" x2="523.00" y2="394.0" stroke="#000" stroke-width="1.1"/>
<text x="523.00" y="406.2" font-size="8.4" text-anchor="middle" fill="#000" stroke="#000" stroke-width="0.25" font-weight="normal" >−250</text>
<line x1="553.50" y1="397.0" x2="553.50" y2="394.0" stroke="#000" stroke-width="1.1"/>
<text x="553.50" y="406.2" font-size="8.4" text-anchor="middle" fill="#000" stroke="#000" stroke-width="0.25" font-weight="normal" >0</text>
<line x1="584.00" y1="397.0" x2="584.00" y2="394.0" stroke="#000" stroke-width="1.1"/>
<text x="584.00" y="406.2" font-size="8.4" text-anchor="middle" fill="#000" stroke="#000" stroke-width="0.25" font-weight="normal" >250</text>
<line x1="614.50" y1="397.0" x2="614.50" y2="394.0" stroke="#000" stroke-width="1.1"/>
<text x="614.50" y="406.2" font-size="8.4" text-anchor="middle" fill="#000" stroke="#000" stroke-width="0.25" font-weight="normal" >500</text>
<line x1="645.00" y1="397.0" x2="645.00" y2="394.0" stroke="#000" stroke-width="1.1"/>
<text x="645.00" y="406.2" font-size="8.4" text-anchor="middle" fill="#000" stroke="#000" stroke-width="0.25" font-weight="normal" >750</text>
<line x1="675.50" y1="397.0" x2="675.50" y2="394.0" stroke="#000" stroke-width="1.1"/>
<text x="675.50" y="406.2" font-size="8.4" text-anchor="middle" fill="#000" stroke="#000" stroke-width="0.25" font-weight="normal" >1000</text>
<line x1="431.6" y1="392.00" x2="434.6" y2="392.00" stroke="#000" stroke-width="1.1"/>
<text x="429.2" y="395.00" font-size="8.4" text-anchor="end" fill="#000" stroke="#000" stroke-width="0.25" font-weight="normal" >0</text>
<line x1="431.6" y1="366.10" x2="434.6" y2="366.10" stroke="#000" stroke-width="1.1"/>
<text x="429.2" y="369.10" font-size="8.4" text-anchor="end" fill="#000" stroke="#000" stroke-width="0.25" font-weight="normal" >1</text>
<line x1="431.6" y1="340.20" x2="434.6" y2="340.20" stroke="#000" stroke-width="1.1"/>
<text x="429.2" y="343.20" font-size="8.4" text-anchor="end" fill="#000" stroke="#000" stroke-width="0.25" font-weight="normal" >2</text>
<line x1="431.6" y1="314.30" x2="434.6" y2="314.30" stroke="#000" stroke-width="1.1"/>
<text x="429.2" y="317.30" font-size="8.4" text-anchor="end" fill="#000" stroke="#000" stroke-width="0.25" font-weight="normal" >3</text>
<line x1="431.6" y1="288.40" x2="434.6" y2="288.40" stroke="#000" stroke-width="1.1"/>
<text x="429.2" y="291.40" font-size="8.4" text-anchor="end" fill="#000" stroke="#000" stroke-width="0.25" font-weight="normal" >4</text>
<text x="553.5" y="417.2" font-size="8.7" text-anchor="middle" fill="#000" stroke="#000" stroke-width="0.25" font-weight="normal" >Bias (mV)</text>
<text x="0" y="0" font-size="8.8" text-anchor="middle" transform="translate(419.8,336) rotate(-90)" stroke="#000">dI/dV (Arb. Units)</text>
<text x="414.8" y="288.8" font-size="14.5" text-anchor="start" fill="#000" stroke="#000" stroke-width="0.05" font-weight="bold" >h</text>
<path d="M455.60,280.70 C456.08,282.58 457.40,288.22 458.50,292.00 C459.60,295.78 461.02,299.60 462.20,303.40 C463.38,307.20 464.33,311.72 465.60,314.80 C466.87,317.88 468.38,319.77 469.80,321.90 C471.22,324.03 472.67,326.98 474.10,327.60 C475.53,328.22 476.98,325.85 478.40,325.60 C479.82,325.35 481.18,324.58 482.60,326.10 C484.02,327.62 485.48,331.15 486.90,334.70 C488.32,338.25 489.68,344.33 491.10,347.40 C492.52,350.47 493.97,350.48 495.40,353.10 C496.83,355.72 498.28,359.30 499.70,363.10 C501.12,366.90 502.87,373.07 503.90,375.90 C504.93,378.73 505.18,380.35 505.90,380.10 C506.62,379.85 507.35,381.03 508.20,374.40 C509.05,367.77 510.05,351.18 511.00,340.30 C511.95,329.42 513.13,315.48 513.90,309.10 C514.67,302.72 515.03,302.00 515.60,302.00 C516.17,302.00 516.55,302.72 517.30,309.10 C518.05,315.48 519.23,333.50 520.10,340.30 C520.97,347.10 521.68,345.53 522.50,349.90 C523.32,354.27 524.17,361.52 525.00,366.50 C525.83,371.48 526.67,376.48 527.50,379.80 C528.33,383.12 529.03,385.03 530.00,386.40 C530.97,387.77 531.93,387.67 533.30,388.00 C534.67,388.33 536.68,388.53 538.20,388.40 C539.72,388.27 541.15,387.20 542.40,387.20 C543.65,387.20 544.60,387.93 545.70,388.40 C546.80,388.87 547.75,389.50 549.00,390.00 C550.25,390.50 551.82,391.17 553.20,391.40 C554.58,391.63 555.92,391.55 557.30,391.40 C558.68,391.25 560.25,391.00 561.50,390.50 C562.75,390.00 563.57,389.13 564.80,388.40 C566.03,387.67 567.67,387.05 568.90,386.10 C570.13,385.15 570.95,383.53 572.20,382.70 C573.45,381.87 575.02,381.73 576.40,381.10 C577.78,380.47 579.12,379.95 580.50,378.90 C581.88,377.85 583.45,375.55 584.70,374.80 C585.95,374.05 586.90,374.82 588.00,374.40 C589.10,373.98 589.92,373.12 591.30,372.30 C592.68,371.48 594.85,370.48 596.30,369.50 C597.75,368.52 598.92,367.32 600.00,366.40 C601.08,365.48 601.38,364.78 602.80,364.00 C604.22,363.22 606.92,362.55 608.50,361.70 C610.08,360.85 610.87,360.00 612.30,358.90 C613.73,357.80 615.05,356.22 617.10,355.10 C619.15,353.98 622.40,353.32 624.60,352.20 C626.80,351.08 628.55,349.50 630.30,348.40 C632.05,347.30 633.52,346.70 635.10,345.60 C636.68,344.50 638.38,342.90 639.80,341.80 C641.22,340.70 642.33,340.17 643.60,339.00 C644.87,337.83 646.07,335.98 647.40,334.80 C648.73,333.62 650.90,332.38 651.60,331.90" fill="none" stroke="#ff0000" stroke-width="3" stroke-linejoin="round" stroke-linecap="square"/>
<clipPath id="ch"><rect x="546" y="280" width="53" height="53"/></clipPath>
<g clip-path="url(#ch)"><g filter="url(#afm)">
<rect x="546" y="280" width="53" height="53" fill="rgb(133,133,133)"/>
<g filter="url(#blur3)"><rect x="540" y="290" width="22" height="5" fill="rgb(148,148,148)"/></g>
<g filter="url(#blur1)">
<ellipse cx="542.6" cy="327.1" rx="2.3" ry="2.0" fill="rgb(78,78,78)"/>
<ellipse cx="546.5" cy="333.6" rx="2.3" ry="2.0" fill="rgb(74,74,74)"/>
<ellipse cx="542.2" cy="313.8" rx="2.3" ry="2.0" fill="rgb(85,85,85)"/>
<ellipse cx="546.1" cy="320.3" rx="2.3" ry="2.0" fill="rgb(73,73,73)"/>
<ellipse cx="550.0" cy="326.8" rx="2.3" ry="2.0" fill="rgb(82,82,82)"/>
<ellipse cx="553.9" cy="333.3" rx="2.3" ry="2.0" fill="rgb(79,79,79)"/>
<ellipse cx="545.7" cy="307.0" rx="2.3" ry="2.0" fill="rgb(73,73,73)"/>
<ellipse cx="549.6" cy="313.5" rx="2.3" ry="2.0" fill="rgb(82,82,82)"/>
<ellipse cx="553.5" cy="320.0" rx="2.3" ry="2.0" fill="rgb(72,72,72)"/>
<ellipse cx="557.4" cy="326.5" rx="2.3" ry="2.0" fill="rgb(80,80,80)"/>
<ellipse cx="561.3" cy="333.0" rx="2.3" ry="2.0" fill="rgb(73,73,73)"/>
<ellipse cx="545.3" cy="293.7" rx="2.3" ry="2.0" fill="rgb(73,73,73)"/>
<ellipse cx="549.2" cy="300.2" rx="2.3" ry="2.0" fill="rgb(80,80,80)"/>
<ellipse cx="553.1" cy="306.7" rx="2.3" ry="2.0" fill="rgb(88,88,88)"/>
<ellipse cx="557.0" cy="313.2" rx="2.3" ry="2.0" fill="rgb(74,74,74)"/>
<ellipse cx="560.9" cy="319.7" rx="2.3" ry="2.0" fill="rgb(76,76,76)"/>
<ellipse cx="564.8" cy="326.2" rx="2.3" ry="2.0" fill="rgb(84,84,84)"/>
<ellipse cx="568.7" cy="332.7" rx="2.3" ry="2.0" fill="rgb(91,91,91)"/>
<ellipse cx="544.9" cy="280.4" rx="2.3" ry="2.0" fill="rgb(83,83,83)"/>
<ellipse cx="548.8" cy="286.9" rx="2.3" ry="2.0" fill="rgb(79,79,79)"/>
<ellipse cx="552.7" cy="293.4" rx="2.3" ry="2.0" fill="rgb(91,91,91)"/>
<ellipse cx="556.6" cy="299.9" rx="2.3" ry="2.0" fill="rgb(72,72,72)"/>
<ellipse cx="560.5" cy="306.4" rx="2.3" ry="2.0" fill="rgb(89,89,89)"/>
<ellipse cx="564.4" cy="312.9" rx="2.3" ry="2.0" fill="rgb(77,77,77)"/>
<ellipse cx="568.3" cy="319.4" rx="2.3" ry="2.0" fill="rgb(74,74,74)"/>
<ellipse cx="572.2" cy="325.9" rx="2.3" ry="2.0" fill="rgb(74,74,74)"/>
<ellipse cx="576.1" cy="332.4" rx="2.3" ry="2.0" fill="rgb(78,78,78)"/>
<ellipse cx="552.3" cy="280.1" rx="2.3" ry="2.0" fill="rgb(88,88,88)"/>
<ellipse cx="556.2" cy="286.6" rx="2.3" ry="2.0" fill="rgb(75,75,75)"/>
<ellipse cx="560.1" cy="293.1" rx="2.3" ry="2.0" fill="rgb(83,83,83)"/>
<ellipse cx="564.0" cy="299.6" rx="2.3" ry="2.0" fill="rgb(84,84,84)"/>
<ellipse cx="567.9" cy="306.1" rx="2.3" ry="2.0" fill="rgb(79,79,79)"/>
<ellipse cx="571.8" cy="312.6" rx="2.3" ry="2.0" fill="rgb(83,83,83)"/>
<ellipse cx="575.7" cy="319.1" rx="2.3" ry="2.0" fill="rgb(73,73,73)"/>
<ellipse cx="579.6" cy="325.6" rx="2.3" ry="2.0" fill="rgb(73,73,73)"/>
<ellipse cx="583.5" cy="332.1" rx="2.3" ry="2.0" fill="rgb(76,76,76)"/>
<ellipse cx="559.7" cy="279.8" rx="2.3" ry="2.0" fill="rgb(85,85,85)"/>
<ellipse cx="563.6" cy="286.3" rx="2.3" ry="2.0" fill="rgb(80,80,80)"/>
<ellipse cx="567.5" cy="292.8" rx="2.3" ry="2.0" fill="rgb(78,78,78)"/>
<ellipse cx="571.4" cy="299.3" rx="2.3" ry="2.0" fill="rgb(83,83,83)"/>
<ellipse cx="575.3" cy="305.8" rx="2.3" ry="2.0" fill="rgb(81,81,81)"/>
<ellipse cx="579.2" cy="312.3" rx="2.3" ry="2.0" fill="rgb(78,78,78)"/>
<ellipse cx="583.1" cy="318.8" rx="2.3" ry="2.0" fill="rgb(88,88,88)"/>
<ellipse cx="587.0" cy="325.3" rx="2.3" ry="2.0" fill="rgb(86,86,86)"/>
<ellipse cx="590.9" cy="331.8" rx="2.3" ry="2.0" fill="rgb(76,76,76)"/>
<ellipse cx="567.1" cy="279.5" rx="2.3" ry="2.0" fill="rgb(83,83,83)"/>
<ellipse cx="571.0" cy="286.0" rx="2.3" ry="2.0" fill="rgb(82,82,82)"/>
<ellipse cx="574.9" cy="292.5" rx="2.3" ry="2.0" fill="rgb(89,89,89)"/>
<ellipse cx="578.8" cy="299.0" rx="2.3" ry="2.0" fill="rgb(86,86,86)"/>
<ellipse cx="582.7" cy="305.5" rx="2.3" ry="2.0" fill="rgb(77,77,77)"/>
<ellipse cx="586.6" cy="312.0" rx="2.3" ry="2.0" fill="rgb(91,91,91)"/>
<ellipse cx="590.5" cy="318.5" rx="2.3" ry="2.0" fill="rgb(74,74,74)"/>
<ellipse cx="594.4" cy="325.0" rx="2.3" ry="2.0" fill="rgb(80,80,80)"/>
<ellipse cx="598.3" cy="331.5" rx="2.3" ry="2.0" fill="rgb(87,87,87)"/>
<ellipse cx="574.5" cy="279.2" rx="2.3" ry="2.0" fill="rgb(75,75,75)"/>
<ellipse cx="578.4" cy="285.7" rx="2.3" ry="2.0" fill="rgb(81,81,81)"/>
<ellipse cx="582.3" cy="292.2" rx="2.3" ry="2.0" fill="rgb(72,72,72)"/>
<ellipse cx="586.2" cy="298.7" rx="2.3" ry="2.0" fill="rgb(85,85,85)"/>
<ellipse cx="590.1" cy="305.2" rx="2.3" ry="2.0" fill="rgb(87,87,87)"/>
<ellipse cx="594.0" cy="311.7" rx="2.3" ry="2.0" fill="rgb(83,83,83)"/>
<ellipse cx="597.9" cy="318.2" rx="2.3" ry="2.0" fill="rgb(89,89,89)"/>
<ellipse cx="601.8" cy="324.7" rx="2.3" ry="2.0" fill="rgb(78,78,78)"/>
<ellipse cx="581.9" cy="278.9" rx="2.3" ry="2.0" fill="rgb(86,86,86)"/>
<ellipse cx="585.8" cy="285.4" rx="2.3" ry="2.0" fill="rgb(84,84,84)"/>
<ellipse cx="589.7" cy="291.9" rx="2.3" ry="2.0" fill="rgb(83,83,83)"/>
<ellipse cx="593.6" cy="298.4" rx="2.3" ry="2.0" fill="rgb(81,81,81)"/>
<ellipse cx="597.5" cy="304.9" rx="2.3" ry="2.0" fill="rgb(89,89,89)"/>
<ellipse cx="601.4" cy="311.4" rx="2.3" ry="2.0" fill="rgb(91,91,91)"/>
<ellipse cx="589.3" cy="278.6" rx="2.3" ry="2.0" fill="rgb(81,81,81)"/>
<ellipse cx="593.2" cy="285.1" rx="2.3" ry="2.0" fill="rgb(85,85,85)"/>
<ellipse cx="597.1" cy="291.6" rx="2.3" ry="2.0" fill="rgb(73,73,73)"/>
<ellipse cx="601.0" cy="298.1" rx="2.3" ry="2.0" fill="rgb(86,86,86)"/>
<ellipse cx="596.7" cy="278.3" rx="2.3" ry="2.0" fill="rgb(85,85,85)"/>
<ellipse cx="600.6" cy="284.8" rx="2.3" ry="2.0" fill="rgb(92,92,92)"/>
</g>
<g filter="url(#blur3)"><circle cx="577.5" cy="308.3" r="7" fill="rgb(158,158,158)"/></g>
<g filter="url(#blur2)"><circle cx="577.5" cy="308.3" r="3.5" fill="rgb(230,230,230)"/></g>
</g></g>
<circle cx="577.1" cy="308.7" r="13.6" fill="none" stroke="#fff" stroke-width="1.5"/>
<line x1="567" y1="328.2" x2="593" y2="328.2" stroke="#000" stroke-width="2"/>
<text x="601.2" y="289.8" font-size="11.5" stroke-width="0.18" stroke="#000">NV<tspan font-size="7" dy="-4.5">-</tspan><tspan dy="4.5"> center,</tspan></text>
<text x="601.2" y="303.6" font-size="11.5" text-anchor="start" fill="#000" stroke="#000" stroke-width="0.18" font-weight="normal" >Defect 3</text>
</svg></body></html>
